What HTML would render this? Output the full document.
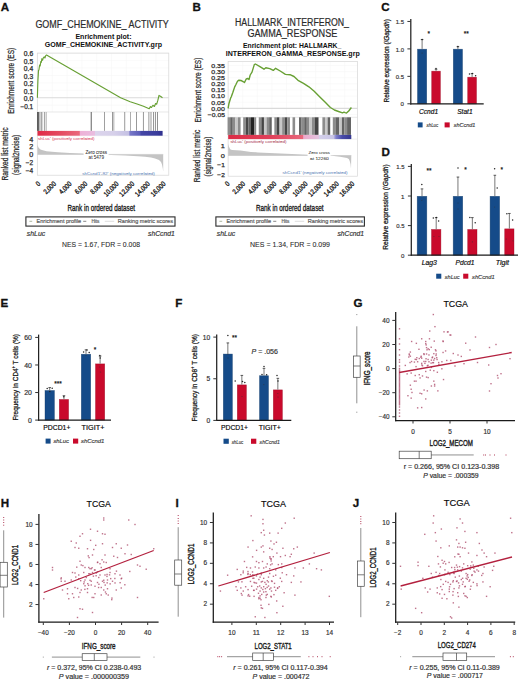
<!DOCTYPE html>
<html><head><meta charset="utf-8"><title>Figure</title>
<style>
html,body{margin:0;padding:0;background:#fff;width:520px;height:680px;overflow:hidden;}
svg{display:block;}
text{font-family:"Liberation Sans", sans-serif;}
</style></head><body>
<svg width="520" height="680" viewBox="0 0 520 680">
<text x="0.70" y="10.90" font-size="11.6" font-weight="bold" fill="#111" stroke="#111" stroke-width="0.3">A</text>
<text x="192.60" y="10.70" font-size="11.6" font-weight="bold" fill="#111" stroke="#111" stroke-width="0.3">B</text>
<text x="381.20" y="10.70" font-size="11.6" font-weight="bold" fill="#111" stroke="#111" stroke-width="0.3">C</text>
<text x="381.60" y="155.60" font-size="11.6" font-weight="bold" fill="#111" stroke="#111" stroke-width="0.3">D</text>
<text x="0.40" y="307.30" font-size="11.6" font-weight="bold" fill="#111" stroke="#111" stroke-width="0.3">E</text>
<text x="175.20" y="307.30" font-size="11.6" font-weight="bold" fill="#111" stroke="#111" stroke-width="0.3">F</text>
<text x="353.40" y="307.00" font-size="11.6" font-weight="bold" fill="#111" stroke="#111" stroke-width="0.3">G</text>
<text x="0.80" y="506.60" font-size="11.6" font-weight="bold" fill="#111" stroke="#111" stroke-width="0.3">H</text>
<text x="175.40" y="507.00" font-size="11.6" font-weight="bold" fill="#111" stroke="#111" stroke-width="0.3">I</text>
<text x="352.80" y="507.00" font-size="11.6" font-weight="bold" fill="#111" stroke="#111" stroke-width="0.3">J</text>
<line x1="37.30" y1="53.10" x2="168.80" y2="53.10" stroke="#f6f6f6" stroke-width="0.6"/>
<line x1="37.30" y1="60.55" x2="168.80" y2="60.55" stroke="#f6f6f6" stroke-width="0.6"/>
<line x1="37.30" y1="68.00" x2="168.80" y2="68.00" stroke="#f6f6f6" stroke-width="0.6"/>
<line x1="37.30" y1="75.45" x2="168.80" y2="75.45" stroke="#f6f6f6" stroke-width="0.6"/>
<line x1="37.30" y1="82.90" x2="168.80" y2="82.90" stroke="#f6f6f6" stroke-width="0.6"/>
<line x1="37.30" y1="90.35" x2="168.80" y2="90.35" stroke="#f6f6f6" stroke-width="0.6"/>
<line x1="37.30" y1="105.25" x2="168.80" y2="105.25" stroke="#f6f6f6" stroke-width="0.6"/>
<line x1="52.30" y1="53.10" x2="52.30" y2="112.00" stroke="#f6f6f6" stroke-width="0.6"/>
<line x1="67.11" y1="53.10" x2="67.11" y2="112.00" stroke="#f6f6f6" stroke-width="0.6"/>
<line x1="81.91" y1="53.10" x2="81.91" y2="112.00" stroke="#f6f6f6" stroke-width="0.6"/>
<line x1="96.72" y1="53.10" x2="96.72" y2="112.00" stroke="#f6f6f6" stroke-width="0.6"/>
<line x1="111.52" y1="53.10" x2="111.52" y2="112.00" stroke="#f6f6f6" stroke-width="0.6"/>
<line x1="126.33" y1="53.10" x2="126.33" y2="112.00" stroke="#f6f6f6" stroke-width="0.6"/>
<line x1="141.13" y1="53.10" x2="141.13" y2="112.00" stroke="#f6f6f6" stroke-width="0.6"/>
<line x1="155.94" y1="53.10" x2="155.94" y2="112.00" stroke="#f6f6f6" stroke-width="0.6"/>
<line x1="37.30" y1="97.80" x2="168.80" y2="97.80" stroke="#dadada" stroke-width="1.1"/>
<rect x="37.30" y="53.10" width="131.50" height="122.10" fill="none" stroke="#d6d6d6" stroke-width="0.7"/>
<line x1="37.30" y1="112.00" x2="168.80" y2="112.00" stroke="#d8d8d8" stroke-width="0.6"/>
<line x1="37.30" y1="135.70" x2="168.80" y2="135.70" stroke="#e6e6e6" stroke-width="0.6"/>
<rect x="37.20" y="112.00" width="1.00" height="18.90" fill="rgb(60,60,60)"/>
<rect x="38.05" y="112.00" width="0.90" height="18.90" fill="rgb(90,90,90)"/>
<rect x="39.50" y="112.00" width="0.80" height="18.90" fill="rgb(120,120,120)"/>
<rect x="40.95" y="112.00" width="0.70" height="18.90" fill="rgb(120,120,120)"/>
<rect x="42.50" y="112.00" width="0.60" height="18.90" fill="rgb(175,175,175)"/>
<rect x="44.05" y="112.00" width="0.70" height="18.90" fill="rgb(130,130,130)"/>
<rect x="45.75" y="112.00" width="0.70" height="18.90" fill="rgb(135,135,135)"/>
<rect x="90.75" y="112.00" width="0.90" height="18.90" fill="rgb(80,80,80)"/>
<rect x="104.05" y="112.00" width="0.70" height="18.90" fill="rgb(120,120,120)"/>
<rect x="112.25" y="112.00" width="0.70" height="18.90" fill="rgb(110,110,110)"/>
<rect x="113.60" y="112.00" width="0.60" height="18.90" fill="rgb(120,120,120)"/>
<rect x="124.45" y="112.00" width="0.70" height="18.90" fill="rgb(110,110,110)"/>
<rect x="130.30" y="112.00" width="0.60" height="18.90" fill="rgb(120,120,120)"/>
<rect x="136.15" y="112.00" width="0.70" height="18.90" fill="rgb(110,110,110)"/>
<rect x="142.95" y="112.00" width="0.70" height="18.90" fill="rgb(110,110,110)"/>
<rect x="148.55" y="112.00" width="0.70" height="18.90" fill="rgb(110,110,110)"/>
<rect x="150.65" y="112.00" width="0.70" height="18.90" fill="rgb(110,110,110)"/>
<rect x="153.15" y="112.00" width="0.70" height="18.90" fill="rgb(110,110,110)"/>
<rect x="154.95" y="112.00" width="0.70" height="18.90" fill="rgb(100,100,100)"/>
<rect x="157.25" y="112.00" width="0.70" height="18.90" fill="rgb(100,100,100)"/>
<linearGradient id="gA" gradientUnits="userSpaceOnUse" x1="37.5" y1="0" x2="162.6" y2="0"><stop offset="0.0000" stop-color="#e02a46"/><stop offset="0.1799" stop-color="#e44a60"/><stop offset="0.3349" stop-color="#ea6a7c"/><stop offset="0.3389" stop-color="#eeb0d6"/><stop offset="0.4556" stop-color="#e9bde0"/><stop offset="0.4636" stop-color="#dcd4ec"/><stop offset="0.6115" stop-color="#d6d0ea"/><stop offset="0.7314" stop-color="#c4c0e4"/><stop offset="0.7378" stop-color="#7878c8"/><stop offset="0.8193" stop-color="#5a5cb8"/><stop offset="0.8273" stop-color="#4446a6"/><stop offset="0.9552" stop-color="#3a3c9c"/><stop offset="1.0000" stop-color="#2e2f8c"/></linearGradient>
<rect x="37.50" y="130.90" width="125.10" height="4.80" fill="url(#gA)"/>
<path d="M37.40 97.80 L37.60 90.00 L37.90 81.10 L38.50 70.80 L39.00 69.50 L39.60 65.00 L40.20 66.00 L40.80 61.50 L41.30 62.30 L41.90 58.70 L42.60 60.20 L43.40 57.60 L44.20 56.90 L44.90 58.00 L45.70 55.60 L46.50 55.00 L120.60 97.80 L130.20 101.70 L137.10 104.00 L143.50 106.30 L149.20 108.70 L150.40 106.60 L151.50 107.50 L152.90 105.30 L154.40 106.50 L155.60 103.50 L156.70 104.20 L157.90 100.20 L159.00 95.40 L160.80 96.50 L162.50 97.70" stroke="#68a034" stroke-width="1.15" fill="none" stroke-linejoin="round"/>
<path d="M37.50 154.60 L37.50 145.00 L38.50 147.60 L40.00 149.20 L41.90 150.10 L46.50 151.20 L52.00 151.80 L58.00 152.20 L70.00 153.00 L83.00 153.60 L93.00 154.40 L110.80 154.90 L125.00 155.50 L137.70 156.20 L145.00 156.80 L151.00 157.60 L155.00 158.40 L159.00 160.00 L161.00 162.00 L162.00 164.50 L162.80 168.50 L163.20 171.50 L163.20 154.40" stroke="none" stroke-width="0" fill="#c4c4c4"/>
<line x1="37.50" y1="154.40" x2="163.20" y2="154.40" stroke="#bdbdbd" stroke-width="0.5"/>
<rect x="83.60" y="149.00" width="25.00" height="12.50" fill="#fff"/>
<text x="33.20" y="56.40" font-size="6.4" text-anchor="end" fill="#2a2a2a" textLength="9.32" lengthAdjust="spacingAndGlyphs" stroke="#2a2a2a" stroke-width="0.25">0.6</text>
<text x="33.20" y="63.85" font-size="6.4" text-anchor="end" fill="#2a2a2a" textLength="9.32" lengthAdjust="spacingAndGlyphs" stroke="#2a2a2a" stroke-width="0.25">0.5</text>
<text x="33.20" y="71.30" font-size="6.4" text-anchor="end" fill="#2a2a2a" textLength="9.32" lengthAdjust="spacingAndGlyphs" stroke="#2a2a2a" stroke-width="0.25">0.4</text>
<text x="33.20" y="78.75" font-size="6.4" text-anchor="end" fill="#2a2a2a" textLength="9.32" lengthAdjust="spacingAndGlyphs" stroke="#2a2a2a" stroke-width="0.25">0.3</text>
<text x="33.20" y="86.20" font-size="6.4" text-anchor="end" fill="#2a2a2a" textLength="9.32" lengthAdjust="spacingAndGlyphs" stroke="#2a2a2a" stroke-width="0.25">0.2</text>
<text x="33.20" y="93.65" font-size="6.4" text-anchor="end" fill="#2a2a2a" textLength="9.32" lengthAdjust="spacingAndGlyphs" stroke="#2a2a2a" stroke-width="0.25">0.1</text>
<text x="33.20" y="101.10" font-size="6.4" text-anchor="end" fill="#2a2a2a" textLength="9.32" lengthAdjust="spacingAndGlyphs" stroke="#2a2a2a" stroke-width="0.25">0.0</text>
<text x="33.20" y="108.55" font-size="6.4" text-anchor="end" fill="#2a2a2a" textLength="12.72" lengthAdjust="spacingAndGlyphs" stroke="#2a2a2a" stroke-width="0.25">−0.1</text>
<text x="33.20" y="141.60" font-size="6.4" text-anchor="end" fill="#2a2a2a" textLength="4.00" lengthAdjust="spacingAndGlyphs" stroke="#2a2a2a" stroke-width="0.25">4</text>
<text x="33.20" y="149.30" font-size="6.4" text-anchor="end" fill="#2a2a2a" textLength="4.00" lengthAdjust="spacingAndGlyphs" stroke="#2a2a2a" stroke-width="0.25">2</text>
<text x="33.20" y="157.10" font-size="6.4" text-anchor="end" fill="#2a2a2a" textLength="4.00" lengthAdjust="spacingAndGlyphs" stroke="#2a2a2a" stroke-width="0.25">0</text>
<text x="33.20" y="165.20" font-size="6.4" text-anchor="end" fill="#2a2a2a" textLength="7.40" lengthAdjust="spacingAndGlyphs" stroke="#2a2a2a" stroke-width="0.25">−2</text>
<text x="33.20" y="173.20" font-size="6.4" text-anchor="end" fill="#2a2a2a" textLength="7.40" lengthAdjust="spacingAndGlyphs" stroke="#2a2a2a" stroke-width="0.25">−4</text>
<text x="14.00" y="80.80" font-size="8.8" text-anchor="middle" fill="#2a2a2a" textLength="66.00" lengthAdjust="spacingAndGlyphs" transform="rotate(-90 14.00 80.80)" stroke="#2a2a2a" stroke-width="0.25">Enrichment score (ES)</text>
<text x="8.10" y="154.00" font-size="8.8" text-anchor="middle" fill="#2a2a2a" textLength="53.20" lengthAdjust="spacingAndGlyphs" transform="rotate(-90 8.10 154.00)" stroke="#2a2a2a" stroke-width="0.25">Ranked list metric</text>
<text x="19.40" y="154.90" font-size="8.8" text-anchor="middle" fill="#2a2a2a" textLength="40.00" lengthAdjust="spacingAndGlyphs" transform="rotate(-90 19.40 154.90)" stroke="#2a2a2a" stroke-width="0.25">(signal2noise)</text>
<text x="40.80" y="184.30" font-size="7.0" text-anchor="end" textLength="3.24" lengthAdjust="spacingAndGlyphs" transform="rotate(-45 40.80 184.30)" stroke="#222" stroke-width="0.3">0</text>
<text x="56.45" y="184.30" font-size="7.0" text-anchor="end" textLength="14.58" lengthAdjust="spacingAndGlyphs" transform="rotate(-45 56.45 184.30)" stroke="#222" stroke-width="0.3">2,000</text>
<text x="72.10" y="184.30" font-size="7.0" text-anchor="end" textLength="14.58" lengthAdjust="spacingAndGlyphs" transform="rotate(-45 72.10 184.30)" stroke="#222" stroke-width="0.3">4,000</text>
<text x="87.75" y="184.30" font-size="7.0" text-anchor="end" textLength="14.58" lengthAdjust="spacingAndGlyphs" transform="rotate(-45 87.75 184.30)" stroke="#222" stroke-width="0.3">6,000</text>
<text x="103.40" y="184.30" font-size="7.0" text-anchor="end" textLength="14.58" lengthAdjust="spacingAndGlyphs" transform="rotate(-45 103.40 184.30)" stroke="#222" stroke-width="0.3">8,000</text>
<text x="119.05" y="184.30" font-size="7.0" text-anchor="end" textLength="17.82" lengthAdjust="spacingAndGlyphs" transform="rotate(-45 119.05 184.30)" stroke="#222" stroke-width="0.3">10,000</text>
<text x="134.70" y="184.30" font-size="7.0" text-anchor="end" textLength="17.82" lengthAdjust="spacingAndGlyphs" transform="rotate(-45 134.70 184.30)" stroke="#222" stroke-width="0.3">12,000</text>
<text x="150.35" y="184.30" font-size="7.0" text-anchor="end" textLength="17.82" lengthAdjust="spacingAndGlyphs" transform="rotate(-45 150.35 184.30)" stroke="#222" stroke-width="0.3">14,000</text>
<text x="166.00" y="184.30" font-size="7.0" text-anchor="end" textLength="17.82" lengthAdjust="spacingAndGlyphs" transform="rotate(-45 166.00 184.30)" stroke="#222" stroke-width="0.3">16,000</text>
<text x="38.00" y="140.30" font-size="4.3" fill="#e0506a" textLength="56.60" lengthAdjust="spacingAndGlyphs" stroke="#e0506a" stroke-width="0.05">shLuc′ (positively correlated)</text>
<text x="96.20" y="154.00" font-size="4.6" text-anchor="middle" fill="#333" textLength="21.60" lengthAdjust="spacingAndGlyphs" stroke="#333" stroke-width="0.05">Zero cross</text>
<text x="96.30" y="159.30" font-size="4.6" text-anchor="middle" fill="#333" textLength="15.40" lengthAdjust="spacingAndGlyphs" stroke="#333" stroke-width="0.05">at 5479</text>
<text x="82.20" y="175.00" font-size="4.4" fill="#6a8cc0" textLength="72.60" lengthAdjust="spacingAndGlyphs" stroke="#6a8cc0" stroke-width="0.05">shCcnd1′-92′ (negatively correlated)</text>
<line x1="228.10" y1="65.49" x2="357.50" y2="65.49" stroke="#f6f6f6" stroke-width="0.6"/>
<line x1="228.10" y1="71.62" x2="357.50" y2="71.62" stroke="#f6f6f6" stroke-width="0.6"/>
<line x1="228.10" y1="77.75" x2="357.50" y2="77.75" stroke="#f6f6f6" stroke-width="0.6"/>
<line x1="228.10" y1="83.88" x2="357.50" y2="83.88" stroke="#f6f6f6" stroke-width="0.6"/>
<line x1="228.10" y1="90.01" x2="357.50" y2="90.01" stroke="#f6f6f6" stroke-width="0.6"/>
<line x1="228.10" y1="96.14" x2="357.50" y2="96.14" stroke="#f6f6f6" stroke-width="0.6"/>
<line x1="228.10" y1="102.27" x2="357.50" y2="102.27" stroke="#f6f6f6" stroke-width="0.6"/>
<line x1="228.10" y1="114.53" x2="357.50" y2="114.53" stroke="#f6f6f6" stroke-width="0.6"/>
<line x1="242.77" y1="61.60" x2="242.77" y2="117.30" stroke="#f6f6f6" stroke-width="0.6"/>
<line x1="257.34" y1="61.60" x2="257.34" y2="117.30" stroke="#f6f6f6" stroke-width="0.6"/>
<line x1="271.90" y1="61.60" x2="271.90" y2="117.30" stroke="#f6f6f6" stroke-width="0.6"/>
<line x1="286.47" y1="61.60" x2="286.47" y2="117.30" stroke="#f6f6f6" stroke-width="0.6"/>
<line x1="301.04" y1="61.60" x2="301.04" y2="117.30" stroke="#f6f6f6" stroke-width="0.6"/>
<line x1="315.61" y1="61.60" x2="315.61" y2="117.30" stroke="#f6f6f6" stroke-width="0.6"/>
<line x1="330.18" y1="61.60" x2="330.18" y2="117.30" stroke="#f6f6f6" stroke-width="0.6"/>
<line x1="344.74" y1="61.60" x2="344.74" y2="117.30" stroke="#f6f6f6" stroke-width="0.6"/>
<line x1="228.10" y1="108.40" x2="357.50" y2="108.40" stroke="#dadada" stroke-width="1.1"/>
<rect x="228.10" y="61.60" width="129.40" height="114.60" fill="none" stroke="#d6d6d6" stroke-width="0.7"/>
<line x1="228.10" y1="117.30" x2="357.50" y2="117.30" stroke="#d8d8d8" stroke-width="0.6"/>
<line x1="228.10" y1="139.10" x2="357.50" y2="139.10" stroke="#e6e6e6" stroke-width="0.6"/>
<rect x="227.60" y="117.30" width="2.60" height="17.60" fill="rgb(140,140,140)"/>
<rect x="230.19" y="117.30" width="2.60" height="17.60" fill="rgb(100,100,100)"/>
<rect x="232.79" y="117.30" width="2.60" height="17.60" fill="rgb(140,140,140)"/>
<rect x="235.39" y="117.30" width="2.60" height="17.60" fill="rgb(200,200,200)"/>
<rect x="237.99" y="117.30" width="2.60" height="17.60" fill="rgb(140,140,140)"/>
<rect x="243.18" y="117.30" width="2.60" height="17.60" fill="rgb(140,140,140)"/>
<rect x="245.78" y="117.30" width="2.60" height="17.60" fill="rgb(70,70,70)"/>
<rect x="248.38" y="117.30" width="2.60" height="17.60" fill="rgb(100,100,100)"/>
<rect x="250.97" y="117.30" width="3.12" height="17.60" fill="rgb(35,35,35)"/>
<rect x="254.09" y="117.30" width="2.08" height="17.60" fill="rgb(140,140,140)"/>
<rect x="258.76" y="117.30" width="2.60" height="17.60" fill="rgb(140,140,140)"/>
<rect x="261.36" y="117.30" width="2.60" height="17.60" fill="rgb(70,70,70)"/>
<rect x="263.96" y="117.30" width="2.60" height="17.60" fill="rgb(200,200,200)"/>
<rect x="266.56" y="117.30" width="2.60" height="17.60" fill="rgb(140,140,140)"/>
<rect x="269.15" y="117.30" width="2.60" height="17.60" fill="rgb(100,100,100)"/>
<rect x="274.35" y="117.30" width="2.60" height="17.60" fill="rgb(140,140,140)"/>
<rect x="276.95" y="117.30" width="2.60" height="17.60" fill="rgb(70,70,70)"/>
<rect x="279.54" y="117.30" width="2.60" height="17.60" fill="rgb(200,200,200)"/>
<rect x="282.14" y="117.30" width="2.60" height="17.60" fill="rgb(140,140,140)"/>
<rect x="284.74" y="117.30" width="2.60" height="17.60" fill="rgb(70,70,70)"/>
<rect x="287.34" y="117.30" width="2.60" height="17.60" fill="rgb(140,140,140)"/>
<rect x="292.53" y="117.30" width="2.60" height="17.60" fill="rgb(140,140,140)"/>
<rect x="299.02" y="117.30" width="2.60" height="17.60" fill="rgb(100,100,100)"/>
<rect x="301.62" y="117.30" width="2.60" height="17.60" fill="rgb(140,140,140)"/>
<rect x="304.22" y="117.30" width="2.60" height="17.60" fill="rgb(100,100,100)"/>
<rect x="306.82" y="117.30" width="2.60" height="17.60" fill="rgb(140,140,140)"/>
<rect x="309.41" y="117.30" width="2.60" height="17.60" fill="rgb(200,200,200)"/>
<rect x="312.01" y="117.30" width="2.60" height="17.60" fill="rgb(140,140,140)"/>
<rect x="314.61" y="117.30" width="3.90" height="17.60" fill="rgb(70,70,70)"/>
<rect x="322.40" y="117.30" width="2.60" height="17.60" fill="rgb(140,140,140)"/>
<rect x="325.00" y="117.30" width="2.60" height="17.60" fill="rgb(200,200,200)"/>
<rect x="327.60" y="117.30" width="2.60" height="17.60" fill="rgb(100,100,100)"/>
<rect x="332.79" y="117.30" width="2.60" height="17.60" fill="rgb(140,140,140)"/>
<rect x="335.39" y="117.30" width="3.90" height="17.60" fill="rgb(100,100,100)"/>
<rect x="339.28" y="117.30" width="2.60" height="17.60" fill="rgb(200,200,200)"/>
<rect x="341.88" y="117.30" width="2.60" height="17.60" fill="rgb(100,100,100)"/>
<rect x="344.48" y="117.30" width="2.60" height="17.60" fill="rgb(140,140,140)"/>
<rect x="347.08" y="117.30" width="3.90" height="17.60" fill="rgb(100,100,100)"/>
<linearGradient id="gB" gradientUnits="userSpaceOnUse" x1="228.2" y1="0" x2="351.3" y2="0"><stop offset="0.0000" stop-color="#dc2c46"/><stop offset="0.3396" stop-color="#e0405a"/><stop offset="0.6076" stop-color="#e8687c"/><stop offset="0.6125" stop-color="#ecaacb"/><stop offset="0.7360" stop-color="#e4c4e0"/><stop offset="0.7417" stop-color="#d4d0ea"/><stop offset="0.8554" stop-color="#c8c4e6"/><stop offset="0.8757" stop-color="#8080cc"/><stop offset="0.9245" stop-color="#4a4caa"/><stop offset="1.0000" stop-color="#34368f"/></linearGradient>
<rect x="228.20" y="134.90" width="123.10" height="4.20" fill="url(#gB)"/>
<path d="M228.10 108.40 L228.90 103.80 L230.60 98.10 L231.20 97.00 L232.90 92.30 L234.60 87.10 L235.80 84.80 L237.50 81.30 L238.70 80.20 L241.00 80.50 L242.70 81.30 L244.50 82.50 L246.20 79.00 L247.90 78.50 L249.00 79.60 L250.20 75.00 L252.00 72.10 L254.30 64.60 L255.40 64.00 L259.50 66.30 L264.00 69.20 L265.80 67.80 L269.80 68.60 L273.30 70.40 L275.60 68.30 L280.20 71.00 L285.40 74.40 L290.00 74.70 L294.00 76.50 L298.00 80.30 L303.50 83.30 L308.90 86.80 L314.20 91.30 L319.60 96.70 L325.00 102.10 L330.40 107.50 L334.40 110.00 L338.50 111.50 L342.50 112.90 L344.00 112.20 L345.20 112.60 L346.50 113.00 L348.70 111.00 L351.40 107.50" stroke="#68a034" stroke-width="1.4" fill="none" stroke-linejoin="round"/>
<path d="M228.20 155.50 L228.20 143.80 L229.00 146.80 L230.20 149.30 L232.00 150.00 L240.50 150.60 L251.00 151.90 L258.00 152.40 L275.00 153.20 L303.00 154.50 L320.00 155.20 L331.50 155.50 L334.00 156.10 L340.00 156.70 L347.00 157.90 L348.80 159.00 L349.70 161.00 L350.50 164.00 L351.00 168.80 L351.30 155.50" stroke="none" stroke-width="0" fill="#c4c4c4"/>
<line x1="228.20" y1="155.50" x2="351.30" y2="155.50" stroke="#bdbdbd" stroke-width="0.5"/>
<rect x="307.60" y="149.50" width="23.00" height="11.50" fill="#fff"/>
<text x="224.90" y="67.79" font-size="6.2" text-anchor="end" fill="#2a2a2a" textLength="13.59" lengthAdjust="spacingAndGlyphs" stroke="#2a2a2a" stroke-width="0.25">0.35</text>
<text x="224.90" y="73.92" font-size="6.2" text-anchor="end" fill="#2a2a2a" textLength="13.59" lengthAdjust="spacingAndGlyphs" stroke="#2a2a2a" stroke-width="0.25">0.30</text>
<text x="224.90" y="80.05" font-size="6.2" text-anchor="end" fill="#2a2a2a" textLength="13.59" lengthAdjust="spacingAndGlyphs" stroke="#2a2a2a" stroke-width="0.25">0.25</text>
<text x="224.90" y="86.18" font-size="6.2" text-anchor="end" fill="#2a2a2a" textLength="13.59" lengthAdjust="spacingAndGlyphs" stroke="#2a2a2a" stroke-width="0.25">0.20</text>
<text x="224.90" y="92.31" font-size="6.2" text-anchor="end" fill="#2a2a2a" textLength="13.59" lengthAdjust="spacingAndGlyphs" stroke="#2a2a2a" stroke-width="0.25">0.15</text>
<text x="224.90" y="98.44" font-size="6.2" text-anchor="end" fill="#2a2a2a" textLength="13.59" lengthAdjust="spacingAndGlyphs" stroke="#2a2a2a" stroke-width="0.25">0.10</text>
<text x="224.90" y="104.57" font-size="6.2" text-anchor="end" fill="#2a2a2a" textLength="13.59" lengthAdjust="spacingAndGlyphs" stroke="#2a2a2a" stroke-width="0.25">0.05</text>
<text x="224.90" y="110.70" font-size="6.2" text-anchor="end" fill="#2a2a2a" textLength="13.59" lengthAdjust="spacingAndGlyphs" stroke="#2a2a2a" stroke-width="0.25">0.00</text>
<text x="224.90" y="116.83" font-size="6.2" text-anchor="end" fill="#2a2a2a" textLength="17.05" lengthAdjust="spacingAndGlyphs" stroke="#2a2a2a" stroke-width="0.25">−0.05</text>
<text x="224.90" y="148.20" font-size="6.2" text-anchor="end" fill="#2a2a2a" textLength="4.08" lengthAdjust="spacingAndGlyphs" stroke="#2a2a2a" stroke-width="0.25">1</text>
<text x="224.90" y="157.60" font-size="6.2" text-anchor="end" fill="#2a2a2a" textLength="4.08" lengthAdjust="spacingAndGlyphs" stroke="#2a2a2a" stroke-width="0.25">0</text>
<text x="224.90" y="167.20" font-size="6.2" text-anchor="end" fill="#2a2a2a" textLength="7.55" lengthAdjust="spacingAndGlyphs" stroke="#2a2a2a" stroke-width="0.25">−1</text>
<text x="224.90" y="176.80" font-size="6.2" text-anchor="end" fill="#2a2a2a" textLength="7.55" lengthAdjust="spacingAndGlyphs" stroke="#2a2a2a" stroke-width="0.25">−2</text>
<text x="200.80" y="90.10" font-size="8.8" text-anchor="middle" fill="#2a2a2a" textLength="64.80" lengthAdjust="spacingAndGlyphs" transform="rotate(-90 200.80 90.10)" stroke="#2a2a2a" stroke-width="0.25">Enrichment score (ES)</text>
<text x="199.60" y="156.00" font-size="8.8" text-anchor="middle" fill="#2a2a2a" textLength="52.50" lengthAdjust="spacingAndGlyphs" transform="rotate(-90 199.60 156.00)" stroke="#2a2a2a" stroke-width="0.25">Ranked list metric</text>
<text x="210.80" y="156.50" font-size="8.8" text-anchor="middle" fill="#2a2a2a" textLength="39.80" lengthAdjust="spacingAndGlyphs" transform="rotate(-90 210.80 156.50)" stroke="#2a2a2a" stroke-width="0.25">(signal2noise)</text>
<text x="230.00" y="184.30" font-size="7.0" text-anchor="end" textLength="3.24" lengthAdjust="spacingAndGlyphs" transform="rotate(-45 230.00 184.30)" stroke="#222" stroke-width="0.3">0</text>
<text x="245.60" y="184.30" font-size="7.0" text-anchor="end" textLength="14.58" lengthAdjust="spacingAndGlyphs" transform="rotate(-45 245.60 184.30)" stroke="#222" stroke-width="0.3">2,000</text>
<text x="261.20" y="184.30" font-size="7.0" text-anchor="end" textLength="14.58" lengthAdjust="spacingAndGlyphs" transform="rotate(-45 261.20 184.30)" stroke="#222" stroke-width="0.3">4,000</text>
<text x="276.80" y="184.30" font-size="7.0" text-anchor="end" textLength="14.58" lengthAdjust="spacingAndGlyphs" transform="rotate(-45 276.80 184.30)" stroke="#222" stroke-width="0.3">6,000</text>
<text x="292.40" y="184.30" font-size="7.0" text-anchor="end" textLength="14.58" lengthAdjust="spacingAndGlyphs" transform="rotate(-45 292.40 184.30)" stroke="#222" stroke-width="0.3">8,000</text>
<text x="308.00" y="184.30" font-size="7.0" text-anchor="end" textLength="17.82" lengthAdjust="spacingAndGlyphs" transform="rotate(-45 308.00 184.30)" stroke="#222" stroke-width="0.3">10,000</text>
<text x="323.60" y="184.30" font-size="7.0" text-anchor="end" textLength="17.82" lengthAdjust="spacingAndGlyphs" transform="rotate(-45 323.60 184.30)" stroke="#222" stroke-width="0.3">12,000</text>
<text x="339.20" y="184.30" font-size="7.0" text-anchor="end" textLength="17.82" lengthAdjust="spacingAndGlyphs" transform="rotate(-45 339.20 184.30)" stroke="#222" stroke-width="0.3">14,000</text>
<text x="354.80" y="184.30" font-size="7.0" text-anchor="end" textLength="17.82" lengthAdjust="spacingAndGlyphs" transform="rotate(-45 354.80 184.30)" stroke="#222" stroke-width="0.3">16,000</text>
<text x="230.40" y="143.00" font-size="4.3" fill="#b04860" textLength="56.00" lengthAdjust="spacingAndGlyphs" stroke="#b04860" stroke-width="0.05">shLuc′ (positively correlated)</text>
<text x="319.10" y="154.00" font-size="4.4" text-anchor="middle" fill="#333" textLength="21.10" lengthAdjust="spacingAndGlyphs" stroke="#333" stroke-width="0.05">Zero cross</text>
<text x="319.40" y="159.50" font-size="4.4" text-anchor="middle" fill="#333" textLength="18.70" lengthAdjust="spacingAndGlyphs" stroke="#333" stroke-width="0.05">at 12260</text>
<text x="282.50" y="174.00" font-size="4.4" fill="#6a8cc0" textLength="65.00" lengthAdjust="spacingAndGlyphs" stroke="#6a8cc0" stroke-width="0.05">shCcnd1′ (negatively correlated)</text>
<text x="35.40" y="28.30" font-size="10.2" fill="#2a2a2a" textLength="133.40" lengthAdjust="spacingAndGlyphs" stroke="#2a2a2a" stroke-width="0.18">GOMF_CHEMOKINE_ ACTIVITY</text>
<text x="75.40" y="39.40" font-size="7.2" font-weight="bold" fill="#111" textLength="56.10" lengthAdjust="spacingAndGlyphs">Enrichment plot:</text>
<text x="44.80" y="47.00" font-size="7.2" font-weight="bold" fill="#111" textLength="117.20" lengthAdjust="spacingAndGlyphs">GOMF_CHEMOKINE_ACTIVITY.grp</text>
<text x="235.00" y="25.70" font-size="10.0" fill="#2a2a2a" textLength="114.00" lengthAdjust="spacingAndGlyphs" stroke="#2a2a2a" stroke-width="0.18">HALLMARK_INTERFERON_</text>
<text x="247.50" y="36.60" font-size="10.0" fill="#2a2a2a" textLength="89.80" lengthAdjust="spacingAndGlyphs" stroke="#2a2a2a" stroke-width="0.18">GAMMA_RESPONSE</text>
<text x="243.00" y="48.20" font-size="7.0" font-weight="bold" fill="#111" textLength="98.30" lengthAdjust="spacingAndGlyphs">Enrichment plot: HALLMARK_</text>
<text x="225.80" y="56.30" font-size="7.0" font-weight="bold" fill="#111" textLength="133.90" lengthAdjust="spacingAndGlyphs">INTERFERON_GAMMA_RESPONSE.grp</text>
<text x="67.50" y="211.00" font-size="9.8" textLength="67.50" lengthAdjust="spacingAndGlyphs" stroke="#222" stroke-width="0.32">Rank in ordered dataset</text>
<rect x="25.90" y="216.9" width="149.10" height="9.2" fill="none" stroke="#2a2a2a" stroke-width="1.1"/>
<line x1="29.40" y1="221.30" x2="32.20" y2="221.30" stroke="#8a9a78" stroke-width="0.7"/>
<text x="36.60" y="223.20" font-size="5.7" fill="#555" textLength="44.40" lengthAdjust="spacingAndGlyphs" stroke="#555" stroke-width="0.18">Enrichment profile</text>
<line x1="83.20" y1="221.30" x2="86.30" y2="221.30" stroke="#555" stroke-width="0.7"/>
<text x="91.40" y="223.20" font-size="5.7" fill="#555" textLength="8.00" lengthAdjust="spacingAndGlyphs" stroke="#555" stroke-width="0.18">Hits</text>
<line x1="104.80" y1="221.30" x2="114.20" y2="221.30" stroke="#d4d4d4" stroke-width="0.8"/>
<text x="117.80" y="223.20" font-size="5.7" fill="#555" textLength="55.20" lengthAdjust="spacingAndGlyphs" stroke="#555" stroke-width="0.18">Ranking metric scores</text>
<text x="26.80" y="236.40" font-size="7.4" font-style="italic" fill="#333" textLength="18.40" lengthAdjust="spacingAndGlyphs" stroke="#333" stroke-width="0.18">sh<tspan font-style="italic">Luc</tspan></text>
<text x="174.70" y="236.40" font-size="7.4" text-anchor="end" font-style="italic" fill="#333" textLength="26.60" lengthAdjust="spacingAndGlyphs" stroke="#333" stroke-width="0.18">sh<tspan font-style="italic">Ccnd1</tspan></text>
<text x="62.00" y="246.60" font-size="7.0" fill="#2a2a2a" textLength="78.00" lengthAdjust="spacingAndGlyphs" stroke="#2a2a2a" stroke-width="0.08">NES = 1.67, FDR = 0.008</text>
<text x="256.00" y="211.00" font-size="9.8" textLength="67.60" lengthAdjust="spacingAndGlyphs" stroke="#222" stroke-width="0.32">Rank in ordered dataset</text>
<rect x="215.90" y="216.9" width="148.50" height="9.2" fill="none" stroke="#2a2a2a" stroke-width="1.1"/>
<line x1="219.40" y1="221.30" x2="222.20" y2="221.30" stroke="#8a9a78" stroke-width="0.7"/>
<text x="226.60" y="223.20" font-size="5.7" fill="#555" textLength="44.40" lengthAdjust="spacingAndGlyphs" stroke="#555" stroke-width="0.18">Enrichment profile</text>
<line x1="273.20" y1="221.30" x2="276.30" y2="221.30" stroke="#555" stroke-width="0.7"/>
<text x="281.40" y="223.20" font-size="5.7" fill="#555" textLength="8.00" lengthAdjust="spacingAndGlyphs" stroke="#555" stroke-width="0.18">Hits</text>
<line x1="294.80" y1="221.30" x2="304.20" y2="221.30" stroke="#d4d4d4" stroke-width="0.8"/>
<text x="307.80" y="223.20" font-size="5.7" fill="#555" textLength="55.20" lengthAdjust="spacingAndGlyphs" stroke="#555" stroke-width="0.18">Ranking metric scores</text>
<text x="216.80" y="236.40" font-size="7.4" font-style="italic" fill="#333" textLength="18.40" lengthAdjust="spacingAndGlyphs" stroke="#333" stroke-width="0.18">sh<tspan font-style="italic">Luc</tspan></text>
<text x="364.10" y="236.40" font-size="7.4" text-anchor="end" font-style="italic" fill="#333" textLength="26.60" lengthAdjust="spacingAndGlyphs" stroke="#333" stroke-width="0.18">sh<tspan font-style="italic">Ccnd1</tspan></text>
<text x="250.00" y="246.60" font-size="7.0" fill="#2a2a2a" textLength="80.00" lengthAdjust="spacingAndGlyphs" stroke="#2a2a2a" stroke-width="0.08">NES = 1.34, FDR = 0.099</text>
<rect x="417.50" y="49.20" width="9.20" height="54.60" fill="#154b89" stroke="#0d3766" stroke-width="0.6" stroke-opacity="0.6"/>
<line x1="422.10" y1="39.57" x2="422.10" y2="48.90" stroke="#555" stroke-width="0.8"/>
<line x1="420.80" y1="39.57" x2="423.40" y2="39.57" stroke="#333" stroke-width="0.8"/>
<rect x="431.70" y="71.16" width="8.70" height="32.64" fill="#c90a2c" stroke="#98001c" stroke-width="0.6" stroke-opacity="0.6"/>
<line x1="436.05" y1="69.21" x2="436.05" y2="70.86" stroke="#555" stroke-width="0.8"/>
<line x1="434.75" y1="69.21" x2="437.35" y2="69.21" stroke="#333" stroke-width="0.8"/>
<rect x="453.30" y="49.20" width="9.20" height="54.60" fill="#154b89" stroke="#0d3766" stroke-width="0.6" stroke-opacity="0.6"/>
<line x1="457.90" y1="46.70" x2="457.90" y2="48.90" stroke="#555" stroke-width="0.8"/>
<line x1="456.60" y1="46.70" x2="459.20" y2="46.70" stroke="#333" stroke-width="0.8"/>
<rect x="467.70" y="77.20" width="8.80" height="26.60" fill="#c90a2c" stroke="#98001c" stroke-width="0.6" stroke-opacity="0.6"/>
<line x1="472.10" y1="73.60" x2="472.10" y2="76.90" stroke="#555" stroke-width="0.8"/>
<line x1="470.80" y1="73.60" x2="473.40" y2="73.60" stroke="#333" stroke-width="0.8"/>
<circle cx="422.10" cy="39.60" r="0.75" fill="#222"/>
<circle cx="436.00" cy="68.40" r="0.75" fill="#222"/>
<circle cx="457.90" cy="46.60" r="0.75" fill="#222"/>
<circle cx="469.50" cy="74.00" r="0.75" fill="#222"/>
<circle cx="472.30" cy="73.40" r="0.75" fill="#222"/>
<circle cx="475.60" cy="75.80" r="0.75" fill="#222"/>
<circle cx="422.10" cy="53.10" r="0.6" fill="#333" fill-opacity="0.6"/>
<line x1="410.80" y1="19.00" x2="410.80" y2="104.40" stroke="#222" stroke-width="1.25"/>
<line x1="410.20" y1="103.80" x2="483.70" y2="103.80" stroke="#1a1a1a" stroke-width="1.25"/>
<line x1="407.40" y1="21.45" x2="410.80" y2="21.45" stroke="#333" stroke-width="1.0"/>
<text x="404.00" y="24.05" font-size="6.0" text-anchor="end" fill="#333" textLength="8.23" lengthAdjust="spacingAndGlyphs" stroke="#333" stroke-width="0.18">1.5</text>
<line x1="407.40" y1="48.90" x2="410.80" y2="48.90" stroke="#333" stroke-width="1.0"/>
<text x="404.00" y="51.50" font-size="6.0" text-anchor="end" fill="#333" textLength="8.23" lengthAdjust="spacingAndGlyphs" stroke="#333" stroke-width="0.18">1.0</text>
<line x1="407.40" y1="76.35" x2="410.80" y2="76.35" stroke="#333" stroke-width="1.0"/>
<text x="404.00" y="78.95" font-size="6.0" text-anchor="end" fill="#333" textLength="8.23" lengthAdjust="spacingAndGlyphs" stroke="#333" stroke-width="0.18">0.5</text>
<line x1="407.40" y1="103.80" x2="410.80" y2="103.80" stroke="#333" stroke-width="1.0"/>
<text x="404.00" y="106.40" font-size="6.0" text-anchor="end" fill="#333" textLength="3.40" lengthAdjust="spacingAndGlyphs" stroke="#333" stroke-width="0.18">0</text>
<text x="428.80" y="35.80" font-size="6.5" text-anchor="middle" stroke="#222" stroke-width="0.18">*</text>
<text x="466.30" y="35.80" font-size="6.5" text-anchor="middle" stroke="#222" stroke-width="0.18">**</text>
<text x="428.60" y="113.90" font-size="6.8" text-anchor="middle" font-style="italic" textLength="19.00" lengthAdjust="spacingAndGlyphs" stroke="#222" stroke-width="0.18">Ccnd1</text>
<text x="464.90" y="113.90" font-size="6.8" text-anchor="middle" font-style="italic" textLength="15.30" lengthAdjust="spacingAndGlyphs" stroke="#222" stroke-width="0.18">Stat1</text>
<text x="426.50" y="127.20" font-size="5.8" font-style="italic" fill="#444" textLength="11.80" lengthAdjust="spacingAndGlyphs" stroke="#444" stroke-width="0.18">sh<tspan>Luc</tspan></text>
<text x="453.70" y="127.20" font-size="5.8" font-style="italic" fill="#444" textLength="21.60" lengthAdjust="spacingAndGlyphs" stroke="#444" stroke-width="0.18">sh<tspan>Ccnd1</tspan></text>
<rect x="417.80" y="122.40" width="4.80" height="5.00" fill="#154b89"/>
<rect x="444.60" y="122.40" width="5.10" height="5.00" fill="#c90a2c"/>
<text x="389.40" y="60.80" font-size="7.4" text-anchor="middle" fill="#1a1a1a" textLength="83.20" lengthAdjust="spacingAndGlyphs" transform="rotate(-90 389.40 60.80)" stroke="#1a1a1a" stroke-width="0.28">Relative expression (/<tspan font-style="italic">Gapdh</tspan>)</text>
<rect x="417.20" y="196.30" width="9.60" height="58.90" fill="#154b89" stroke="#0d3766" stroke-width="0.6" stroke-opacity="0.6"/>
<line x1="422.00" y1="188.90" x2="422.00" y2="196.00" stroke="#555" stroke-width="0.8"/>
<line x1="420.70" y1="188.90" x2="423.30" y2="188.90" stroke="#333" stroke-width="0.8"/>
<rect x="431.50" y="229.45" width="9.40" height="25.75" fill="#c90a2c" stroke="#98001c" stroke-width="0.6" stroke-opacity="0.6"/>
<line x1="436.20" y1="217.61" x2="436.20" y2="229.15" stroke="#555" stroke-width="0.8"/>
<line x1="434.90" y1="217.61" x2="437.50" y2="217.61" stroke="#333" stroke-width="0.8"/>
<rect x="453.20" y="196.30" width="9.50" height="58.90" fill="#154b89" stroke="#0d3766" stroke-width="0.6" stroke-opacity="0.6"/>
<line x1="457.95" y1="177.06" x2="457.95" y2="196.00" stroke="#555" stroke-width="0.8"/>
<line x1="456.65" y1="177.06" x2="459.25" y2="177.06" stroke="#333" stroke-width="0.8"/>
<rect x="467.70" y="229.45" width="9.30" height="25.75" fill="#c90a2c" stroke="#98001c" stroke-width="0.6" stroke-opacity="0.6"/>
<line x1="472.35" y1="217.61" x2="472.35" y2="229.15" stroke="#555" stroke-width="0.8"/>
<line x1="471.05" y1="217.61" x2="473.65" y2="217.61" stroke="#333" stroke-width="0.8"/>
<rect x="490.10" y="196.30" width="9.50" height="58.90" fill="#154b89" stroke="#0d3766" stroke-width="0.6" stroke-opacity="0.6"/>
<line x1="494.85" y1="175.28" x2="494.85" y2="196.00" stroke="#555" stroke-width="0.8"/>
<line x1="493.55" y1="175.28" x2="496.15" y2="175.28" stroke="#333" stroke-width="0.8"/>
<rect x="504.70" y="228.86" width="9.30" height="26.34" fill="#c90a2c" stroke="#98001c" stroke-width="0.6" stroke-opacity="0.6"/>
<line x1="509.35" y1="213.46" x2="509.35" y2="228.56" stroke="#555" stroke-width="0.8"/>
<line x1="508.05" y1="213.46" x2="510.65" y2="213.46" stroke="#333" stroke-width="0.8"/>
<circle cx="421.80" cy="184.60" r="0.75" fill="#222"/>
<circle cx="458.00" cy="168.00" r="0.75" fill="#222"/>
<circle cx="494.60" cy="168.80" r="0.75" fill="#222"/>
<circle cx="497.20" cy="188.00" r="0.75" fill="#222"/>
<circle cx="433.30" cy="218.10" r="0.75" fill="#222"/>
<circle cx="436.40" cy="217.50" r="0.75" fill="#222"/>
<circle cx="438.60" cy="221.10" r="0.75" fill="#222"/>
<circle cx="469.90" cy="217.50" r="0.75" fill="#222"/>
<circle cx="475.20" cy="222.80" r="0.75" fill="#222"/>
<circle cx="506.90" cy="213.70" r="0.75" fill="#222"/>
<circle cx="512.60" cy="220.00" r="0.75" fill="#222"/>
<circle cx="421.80" cy="200.50" r="0.6" fill="#333" fill-opacity="0.6"/>
<circle cx="458.00" cy="203.00" r="0.6" fill="#333" fill-opacity="0.6"/>
<circle cx="458.00" cy="209.00" r="0.6" fill="#333" fill-opacity="0.6"/>
<circle cx="494.60" cy="207.00" r="0.6" fill="#333" fill-opacity="0.6"/>
<circle cx="433.90" cy="236.50" r="0.6" fill="#333" fill-opacity="0.6"/>
<circle cx="439.00" cy="236.50" r="0.6" fill="#333" fill-opacity="0.6"/>
<circle cx="472.40" cy="241.80" r="0.6" fill="#333" fill-opacity="0.6"/>
<circle cx="506.30" cy="239.00" r="0.6" fill="#333" fill-opacity="0.6"/>
<circle cx="513.00" cy="240.80" r="0.6" fill="#333" fill-opacity="0.6"/>
<line x1="411.30" y1="164.00" x2="411.30" y2="255.80" stroke="#222" stroke-width="1.25"/>
<line x1="410.70" y1="255.20" x2="518.00" y2="255.20" stroke="#1a1a1a" stroke-width="1.25"/>
<line x1="407.90" y1="166.40" x2="411.30" y2="166.40" stroke="#333" stroke-width="1.0"/>
<text x="404.50" y="169.00" font-size="6.0" text-anchor="end" fill="#333" textLength="8.23" lengthAdjust="spacingAndGlyphs" stroke="#333" stroke-width="0.18">1.5</text>
<line x1="407.90" y1="196.00" x2="411.30" y2="196.00" stroke="#333" stroke-width="1.0"/>
<text x="404.50" y="198.60" font-size="6.0" text-anchor="end" fill="#333" textLength="3.40" lengthAdjust="spacingAndGlyphs" stroke="#333" stroke-width="0.18">1</text>
<line x1="407.90" y1="225.60" x2="411.30" y2="225.60" stroke="#333" stroke-width="1.0"/>
<text x="404.50" y="228.20" font-size="6.0" text-anchor="end" fill="#333" textLength="8.23" lengthAdjust="spacingAndGlyphs" stroke="#333" stroke-width="0.18">0.5</text>
<line x1="407.90" y1="255.20" x2="411.30" y2="255.20" stroke="#333" stroke-width="1.0"/>
<text x="404.50" y="257.80" font-size="6.0" text-anchor="end" fill="#333" textLength="3.40" lengthAdjust="spacingAndGlyphs" stroke="#333" stroke-width="0.18">0</text>
<text x="429.00" y="172.60" font-size="6.5" text-anchor="middle" stroke="#222" stroke-width="0.18">**</text>
<text x="465.40" y="172.40" font-size="6.5" text-anchor="middle" stroke="#222" stroke-width="0.18">*</text>
<text x="501.80" y="172.40" font-size="6.5" text-anchor="middle" stroke="#222" stroke-width="0.18">*</text>
<text x="429.30" y="265.20" font-size="6.8" text-anchor="middle" font-style="italic" textLength="15.30" lengthAdjust="spacingAndGlyphs" stroke="#222" stroke-width="0.18">Lag3</text>
<text x="465.00" y="265.20" font-size="6.8" text-anchor="middle" font-style="italic" textLength="18.80" lengthAdjust="spacingAndGlyphs" stroke="#222" stroke-width="0.18">Pdcd1</text>
<text x="502.30" y="265.20" font-size="6.8" text-anchor="middle" font-style="italic" textLength="13.20" lengthAdjust="spacingAndGlyphs" stroke="#222" stroke-width="0.18">Tigit</text>
<rect x="436.20" y="273.70" width="5.10" height="5.00" fill="#154b89"/>
<rect x="463.20" y="273.70" width="5.10" height="5.00" fill="#c90a2c"/>
<text x="387.60" y="207.00" font-size="7.4" text-anchor="middle" fill="#1a1a1a" textLength="85.50" lengthAdjust="spacingAndGlyphs" transform="rotate(-90 387.60 207.00)" stroke="#1a1a1a" stroke-width="0.28">Relative expression (/<tspan font-style="italic">Gapdh</tspan>)</text>
<text x="444.80" y="278.60" font-size="5.8" font-style="italic" fill="#444" textLength="14.80" lengthAdjust="spacingAndGlyphs" stroke="#444" stroke-width="0.18">sh<tspan>Luc</tspan></text>
<text x="472.10" y="278.60" font-size="5.8" font-style="italic" fill="#444" textLength="22.50" lengthAdjust="spacingAndGlyphs" stroke="#444" stroke-width="0.18">sh<tspan>Ccnd1</tspan></text>
<rect x="45.00" y="390.50" width="9.40" height="29.60" fill="#154b89" stroke="#0d3766" stroke-width="0.6" stroke-opacity="0.6"/>
<line x1="49.70" y1="387.58" x2="49.70" y2="390.20" stroke="#555" stroke-width="0.8"/>
<line x1="48.40" y1="387.58" x2="51.00" y2="387.58" stroke="#333" stroke-width="0.8"/>
<rect x="59.30" y="399.45" width="9.30" height="20.65" fill="#c90a2c" stroke="#98001c" stroke-width="0.6" stroke-opacity="0.6"/>
<line x1="63.95" y1="395.71" x2="63.95" y2="399.15" stroke="#555" stroke-width="0.8"/>
<line x1="62.65" y1="395.71" x2="65.25" y2="395.71" stroke="#333" stroke-width="0.8"/>
<rect x="81.30" y="354.26" width="9.40" height="65.84" fill="#154b89" stroke="#0d3766" stroke-width="0.6" stroke-opacity="0.6"/>
<line x1="86.00" y1="349.82" x2="86.00" y2="353.96" stroke="#555" stroke-width="0.8"/>
<line x1="84.70" y1="349.82" x2="87.30" y2="349.82" stroke="#333" stroke-width="0.8"/>
<rect x="95.50" y="363.90" width="9.20" height="56.20" fill="#c90a2c" stroke="#98001c" stroke-width="0.6" stroke-opacity="0.6"/>
<line x1="100.10" y1="356.02" x2="100.10" y2="363.60" stroke="#555" stroke-width="0.8"/>
<line x1="98.80" y1="356.02" x2="101.40" y2="356.02" stroke="#333" stroke-width="0.8"/>
<circle cx="47.20" cy="388.60" r="0.75" fill="#222"/>
<circle cx="52.20" cy="388.20" r="0.75" fill="#222"/>
<circle cx="49.80" cy="391.50" r="0.75" fill="#222"/>
<circle cx="63.80" cy="396.80" r="0.75" fill="#222"/>
<circle cx="83.60" cy="352.00" r="0.75" fill="#222"/>
<circle cx="87.00" cy="350.00" r="0.75" fill="#222"/>
<circle cx="89.20" cy="352.50" r="0.75" fill="#222"/>
<circle cx="99.80" cy="355.60" r="0.75" fill="#222"/>
<circle cx="100.20" cy="358.00" r="0.75" fill="#222"/>
<circle cx="99.80" cy="367.00" r="0.6" fill="#333" fill-opacity="0.6"/>
<circle cx="100.50" cy="372.00" r="0.6" fill="#333" fill-opacity="0.6"/>
<circle cx="86.00" cy="355.50" r="0.6" fill="#333" fill-opacity="0.6"/>
<line x1="38.60" y1="334.60" x2="38.60" y2="420.70" stroke="#222" stroke-width="1.25"/>
<line x1="38.00" y1="420.10" x2="111.00" y2="420.10" stroke="#1a1a1a" stroke-width="1.25"/>
<line x1="35.20" y1="337.42" x2="38.60" y2="337.42" stroke="#333" stroke-width="1.0"/>
<text x="31.90" y="340.32" font-size="6.6" text-anchor="end" fill="#333" textLength="7.70" lengthAdjust="spacingAndGlyphs" stroke="#333" stroke-width="0.18">60</text>
<line x1="35.20" y1="364.98" x2="38.60" y2="364.98" stroke="#333" stroke-width="1.0"/>
<text x="31.90" y="367.88" font-size="6.6" text-anchor="end" fill="#333" textLength="7.70" lengthAdjust="spacingAndGlyphs" stroke="#333" stroke-width="0.18">40</text>
<line x1="35.20" y1="392.54" x2="38.60" y2="392.54" stroke="#333" stroke-width="1.0"/>
<text x="31.90" y="395.44" font-size="6.6" text-anchor="end" fill="#333" textLength="7.70" lengthAdjust="spacingAndGlyphs" stroke="#333" stroke-width="0.18">20</text>
<line x1="35.20" y1="420.10" x2="38.60" y2="420.10" stroke="#333" stroke-width="1.0"/>
<text x="31.90" y="423.00" font-size="6.6" text-anchor="end" fill="#333" textLength="3.85" lengthAdjust="spacingAndGlyphs" stroke="#333" stroke-width="0.18">0</text>
<text x="58.00" y="385.60" font-size="6.5" text-anchor="middle" stroke="#222" stroke-width="0.18">***</text>
<text x="95.00" y="352.40" font-size="6.5" text-anchor="middle" stroke="#222" stroke-width="0.18">*</text>
<text x="56.80" y="430.20" font-size="7.2" text-anchor="middle" textLength="27.20" lengthAdjust="spacingAndGlyphs" stroke="#222" stroke-width="0.18">PDCD1+</text>
<text x="93.00" y="430.20" font-size="7.2" text-anchor="middle" textLength="22.80" lengthAdjust="spacingAndGlyphs" stroke="#222" stroke-width="0.18">TIGIT+</text>
<text x="53.40" y="443.40" font-size="5.8" font-style="italic" fill="#444" textLength="15.60" lengthAdjust="spacingAndGlyphs" stroke="#444" stroke-width="0.18">sh<tspan>Luc</tspan></text>
<text x="81.00" y="443.40" font-size="5.8" font-style="italic" fill="#444" textLength="23.40" lengthAdjust="spacingAndGlyphs" stroke="#444" stroke-width="0.18">sh<tspan>Ccnd1</tspan></text>
<rect x="45.60" y="438.60" width="5.00" height="5.00" fill="#154b89"/>
<rect x="73.00" y="438.60" width="5.20" height="5.00" fill="#c90a2c"/>
<text x="17.60" y="377.30" font-size="8.0" text-anchor="middle" fill="#1a1a1a" textLength="86.60" lengthAdjust="spacingAndGlyphs" transform="rotate(-90 17.60 377.30)" stroke="#1a1a1a" stroke-width="0.28">Frequency in CD4<tspan font-size="4.5" dy="-3">+</tspan><tspan dy="3"> T cells (%)</tspan></text>
<rect x="223.30" y="354.06" width="9.10" height="66.34" fill="#154b89" stroke="#0d3766" stroke-width="0.6" stroke-opacity="0.6"/>
<line x1="227.85" y1="342.93" x2="227.85" y2="353.76" stroke="#555" stroke-width="0.8"/>
<line x1="226.55" y1="342.93" x2="229.15" y2="342.93" stroke="#333" stroke-width="0.8"/>
<rect x="237.30" y="384.88" width="9.10" height="35.52" fill="#c90a2c" stroke="#98001c" stroke-width="0.6" stroke-opacity="0.6"/>
<line x1="241.85" y1="375.42" x2="241.85" y2="384.58" stroke="#555" stroke-width="0.8"/>
<line x1="240.55" y1="375.42" x2="243.15" y2="375.42" stroke="#333" stroke-width="0.8"/>
<rect x="259.50" y="375.72" width="9.00" height="44.68" fill="#154b89" stroke="#0d3766" stroke-width="0.6" stroke-opacity="0.6"/>
<line x1="264.00" y1="368.34" x2="264.00" y2="375.42" stroke="#555" stroke-width="0.8"/>
<line x1="262.70" y1="368.34" x2="265.30" y2="368.34" stroke="#333" stroke-width="0.8"/>
<rect x="273.30" y="389.88" width="9.10" height="30.52" fill="#c90a2c" stroke="#98001c" stroke-width="0.6" stroke-opacity="0.6"/>
<line x1="277.85" y1="378.33" x2="277.85" y2="389.58" stroke="#555" stroke-width="0.8"/>
<line x1="276.55" y1="378.33" x2="279.15" y2="378.33" stroke="#333" stroke-width="0.8"/>
<circle cx="227.90" cy="335.40" r="0.75" fill="#222"/>
<circle cx="235.20" cy="381.00" r="0.75" fill="#222"/>
<circle cx="242.50" cy="381.50" r="0.75" fill="#222"/>
<circle cx="244.80" cy="382.60" r="0.75" fill="#222"/>
<circle cx="262.00" cy="374.40" r="0.75" fill="#222"/>
<circle cx="264.00" cy="366.40" r="0.75" fill="#222"/>
<circle cx="266.60" cy="374.80" r="0.75" fill="#222"/>
<circle cx="277.00" cy="375.50" r="0.75" fill="#222"/>
<circle cx="278.00" cy="381.00" r="0.75" fill="#222"/>
<circle cx="227.90" cy="354.20" r="0.6" fill="#333" fill-opacity="0.6"/>
<circle cx="228.00" cy="358.00" r="0.6" fill="#333" fill-opacity="0.6"/>
<circle cx="242.00" cy="396.50" r="0.6" fill="#333" fill-opacity="0.6"/>
<circle cx="263.80" cy="384.60" r="0.6" fill="#333" fill-opacity="0.6"/>
<circle cx="277.80" cy="393.50" r="0.6" fill="#333" fill-opacity="0.6"/>
<circle cx="278.00" cy="397.00" r="0.6" fill="#333" fill-opacity="0.6"/>
<line x1="216.70" y1="334.40" x2="216.70" y2="421.00" stroke="#222" stroke-width="1.25"/>
<line x1="216.10" y1="420.40" x2="291.30" y2="420.40" stroke="#1a1a1a" stroke-width="1.25"/>
<line x1="213.30" y1="337.10" x2="216.70" y2="337.10" stroke="#333" stroke-width="1.0"/>
<text x="210.10" y="339.70" font-size="6.6" text-anchor="end" fill="#333" textLength="7.40" lengthAdjust="spacingAndGlyphs" stroke="#333" stroke-width="0.18">10</text>
<line x1="213.30" y1="378.75" x2="216.70" y2="378.75" stroke="#333" stroke-width="1.0"/>
<text x="210.10" y="381.35" font-size="6.6" text-anchor="end" fill="#333" textLength="3.70" lengthAdjust="spacingAndGlyphs" stroke="#333" stroke-width="0.18">5</text>
<line x1="213.30" y1="420.40" x2="216.70" y2="420.40" stroke="#333" stroke-width="1.0"/>
<text x="210.10" y="423.00" font-size="6.6" text-anchor="end" fill="#333" textLength="3.70" lengthAdjust="spacingAndGlyphs" stroke="#333" stroke-width="0.18">0</text>
<text x="234.60" y="339.90" font-size="6.5" text-anchor="middle" stroke="#222" stroke-width="0.18">**</text>
<text x="234.50" y="430.20" font-size="7.2" text-anchor="middle" textLength="27.00" lengthAdjust="spacingAndGlyphs" stroke="#222" stroke-width="0.18">PDCD1+</text>
<text x="269.80" y="430.20" font-size="7.2" text-anchor="middle" textLength="22.10" lengthAdjust="spacingAndGlyphs" stroke="#222" stroke-width="0.18">TIGIT+</text>
<text x="231.70" y="443.60" font-size="5.8" font-style="italic" fill="#444" textLength="11.60" lengthAdjust="spacingAndGlyphs" stroke="#444" stroke-width="0.18">sh<tspan>Luc</tspan></text>
<text x="259.60" y="443.60" font-size="5.8" font-style="italic" fill="#444" textLength="20.20" lengthAdjust="spacingAndGlyphs" stroke="#444" stroke-width="0.18">sh<tspan>Ccnd1</tspan></text>
<rect x="223.50" y="438.70" width="5.30" height="5.10" fill="#154b89"/>
<rect x="251.00" y="438.70" width="5.30" height="5.10" fill="#c90a2c"/>
<text x="197.40" y="377.80" font-size="8.0" text-anchor="middle" fill="#1a1a1a" textLength="87.60" lengthAdjust="spacingAndGlyphs" transform="rotate(-90 197.40 377.80)" stroke="#1a1a1a" stroke-width="0.28">Frequency in CD8<tspan font-size="4.5" dy="-3">+</tspan><tspan dy="3"> T cells (%)</tspan></text>
<text x="251.50" y="354.00" font-size="7.2" fill="#333" textLength="26.40" lengthAdjust="spacingAndGlyphs" stroke="#333" stroke-width="0.18"><tspan font-style="italic">P</tspan> = .056</text>
<rect x="432.63" y="313.83" width="1.4" height="1.4" fill="#ad4a6a" fill-opacity="0.78"/>
<rect x="434.25" y="325.96" width="1.4" height="1.4" fill="#ad4a6a" fill-opacity="0.78"/>
<rect x="429.07" y="330.33" width="1.4" height="1.4" fill="#ad4a6a" fill-opacity="0.78"/>
<rect x="443.31" y="331.13" width="1.4" height="1.4" fill="#ad4a6a" fill-opacity="0.78"/>
<rect x="447.35" y="331.13" width="1.4" height="1.4" fill="#ad4a6a" fill-opacity="0.78"/>
<rect x="450.10" y="334.37" width="1.4" height="1.4" fill="#ad4a6a" fill-opacity="0.78"/>
<rect x="420.99" y="338.09" width="1.4" height="1.4" fill="#ad4a6a" fill-opacity="0.78"/>
<rect x="428.75" y="338.09" width="1.4" height="1.4" fill="#ad4a6a" fill-opacity="0.78"/>
<rect x="425.03" y="340.84" width="1.4" height="1.4" fill="#ad4a6a" fill-opacity="0.78"/>
<rect x="425.03" y="342.94" width="1.4" height="1.4" fill="#ad4a6a" fill-opacity="0.78"/>
<rect x="442.50" y="340.84" width="1.4" height="1.4" fill="#ad4a6a" fill-opacity="0.78"/>
<rect x="427.46" y="348.12" width="1.4" height="1.4" fill="#ad4a6a" fill-opacity="0.78"/>
<rect x="428.59" y="348.92" width="1.4" height="1.4" fill="#ad4a6a" fill-opacity="0.78"/>
<rect x="418.24" y="348.60" width="1.4" height="1.4" fill="#ad4a6a" fill-opacity="0.78"/>
<rect x="409.66" y="351.35" width="1.4" height="1.4" fill="#ad4a6a" fill-opacity="0.78"/>
<rect x="408.53" y="353.29" width="1.4" height="1.4" fill="#ad4a6a" fill-opacity="0.78"/>
<rect x="423.41" y="353.78" width="1.4" height="1.4" fill="#ad4a6a" fill-opacity="0.78"/>
<rect x="425.84" y="353.29" width="1.4" height="1.4" fill="#ad4a6a" fill-opacity="0.78"/>
<rect x="428.26" y="354.26" width="1.4" height="1.4" fill="#ad4a6a" fill-opacity="0.78"/>
<rect x="433.12" y="352.97" width="1.4" height="1.4" fill="#ad4a6a" fill-opacity="0.78"/>
<rect x="435.54" y="353.29" width="1.4" height="1.4" fill="#ad4a6a" fill-opacity="0.78"/>
<rect x="416.13" y="357.01" width="1.4" height="1.4" fill="#ad4a6a" fill-opacity="0.78"/>
<rect x="420.18" y="356.53" width="1.4" height="1.4" fill="#ad4a6a" fill-opacity="0.78"/>
<rect x="418.56" y="357.82" width="1.4" height="1.4" fill="#ad4a6a" fill-opacity="0.78"/>
<rect x="420.99" y="357.50" width="1.4" height="1.4" fill="#ad4a6a" fill-opacity="0.78"/>
<rect x="414.52" y="358.63" width="1.4" height="1.4" fill="#ad4a6a" fill-opacity="0.78"/>
<rect x="431.50" y="357.01" width="1.4" height="1.4" fill="#ad4a6a" fill-opacity="0.78"/>
<rect x="433.92" y="357.82" width="1.4" height="1.4" fill="#ad4a6a" fill-opacity="0.78"/>
<rect x="436.03" y="357.01" width="1.4" height="1.4" fill="#ad4a6a" fill-opacity="0.78"/>
<rect x="430.69" y="359.44" width="1.4" height="1.4" fill="#ad4a6a" fill-opacity="0.78"/>
<rect x="433.12" y="359.44" width="1.4" height="1.4" fill="#ad4a6a" fill-opacity="0.78"/>
<rect x="409.34" y="361.86" width="1.4" height="1.4" fill="#ad4a6a" fill-opacity="0.78"/>
<rect x="413.71" y="361.38" width="1.4" height="1.4" fill="#ad4a6a" fill-opacity="0.78"/>
<rect x="416.94" y="361.05" width="1.4" height="1.4" fill="#ad4a6a" fill-opacity="0.78"/>
<rect x="420.99" y="362.67" width="1.4" height="1.4" fill="#ad4a6a" fill-opacity="0.78"/>
<rect x="425.03" y="360.73" width="1.4" height="1.4" fill="#ad4a6a" fill-opacity="0.78"/>
<rect x="424.22" y="362.67" width="1.4" height="1.4" fill="#ad4a6a" fill-opacity="0.78"/>
<rect x="428.26" y="361.05" width="1.4" height="1.4" fill="#ad4a6a" fill-opacity="0.78"/>
<rect x="437.97" y="361.86" width="1.4" height="1.4" fill="#ad4a6a" fill-opacity="0.78"/>
<rect x="441.20" y="361.05" width="1.4" height="1.4" fill="#ad4a6a" fill-opacity="0.78"/>
<rect x="446.05" y="359.76" width="1.4" height="1.4" fill="#ad4a6a" fill-opacity="0.78"/>
<rect x="450.10" y="359.76" width="1.4" height="1.4" fill="#ad4a6a" fill-opacity="0.78"/>
<rect x="415.33" y="365.91" width="1.4" height="1.4" fill="#ad4a6a" fill-opacity="0.78"/>
<rect x="421.79" y="365.10" width="1.4" height="1.4" fill="#ad4a6a" fill-opacity="0.78"/>
<rect x="426.65" y="365.10" width="1.4" height="1.4" fill="#ad4a6a" fill-opacity="0.78"/>
<rect x="430.69" y="366.72" width="1.4" height="1.4" fill="#ad4a6a" fill-opacity="0.78"/>
<rect x="406.43" y="373.18" width="1.4" height="1.4" fill="#ad4a6a" fill-opacity="0.78"/>
<rect x="410.47" y="372.38" width="1.4" height="1.4" fill="#ad4a6a" fill-opacity="0.78"/>
<rect x="414.52" y="374.80" width="1.4" height="1.4" fill="#ad4a6a" fill-opacity="0.78"/>
<rect x="418.56" y="373.99" width="1.4" height="1.4" fill="#ad4a6a" fill-opacity="0.78"/>
<rect x="421.79" y="375.29" width="1.4" height="1.4" fill="#ad4a6a" fill-opacity="0.78"/>
<rect x="425.03" y="370.76" width="1.4" height="1.4" fill="#ad4a6a" fill-opacity="0.78"/>
<rect x="425.84" y="376.42" width="1.4" height="1.4" fill="#ad4a6a" fill-opacity="0.78"/>
<rect x="427.46" y="376.90" width="1.4" height="1.4" fill="#ad4a6a" fill-opacity="0.78"/>
<rect x="433.12" y="369.95" width="1.4" height="1.4" fill="#ad4a6a" fill-opacity="0.78"/>
<rect x="436.67" y="371.57" width="1.4" height="1.4" fill="#ad4a6a" fill-opacity="0.78"/>
<rect x="413.71" y="380.46" width="1.4" height="1.4" fill="#ad4a6a" fill-opacity="0.78"/>
<rect x="415.33" y="380.46" width="1.4" height="1.4" fill="#ad4a6a" fill-opacity="0.78"/>
<rect x="419.37" y="377.23" width="1.4" height="1.4" fill="#ad4a6a" fill-opacity="0.78"/>
<rect x="433.12" y="380.46" width="1.4" height="1.4" fill="#ad4a6a" fill-opacity="0.78"/>
<rect x="433.92" y="383.70" width="1.4" height="1.4" fill="#ad4a6a" fill-opacity="0.78"/>
<rect x="442.82" y="378.85" width="1.4" height="1.4" fill="#ad4a6a" fill-opacity="0.78"/>
<rect x="409.66" y="384.51" width="1.4" height="1.4" fill="#ad4a6a" fill-opacity="0.78"/>
<rect x="410.47" y="388.55" width="1.4" height="1.4" fill="#ad4a6a" fill-opacity="0.78"/>
<rect x="411.28" y="391.78" width="1.4" height="1.4" fill="#ad4a6a" fill-opacity="0.78"/>
<rect x="423.41" y="389.36" width="1.4" height="1.4" fill="#ad4a6a" fill-opacity="0.78"/>
<rect x="426.65" y="390.17" width="1.4" height="1.4" fill="#ad4a6a" fill-opacity="0.78"/>
<rect x="430.69" y="385.31" width="1.4" height="1.4" fill="#ad4a6a" fill-opacity="0.78"/>
<rect x="433.92" y="385.31" width="1.4" height="1.4" fill="#ad4a6a" fill-opacity="0.78"/>
<rect x="437.16" y="390.17" width="1.4" height="1.4" fill="#ad4a6a" fill-opacity="0.78"/>
<rect x="407.24" y="395.02" width="1.4" height="1.4" fill="#ad4a6a" fill-opacity="0.78"/>
<rect x="410.47" y="397.44" width="1.4" height="1.4" fill="#ad4a6a" fill-opacity="0.78"/>
<rect x="419.37" y="392.59" width="1.4" height="1.4" fill="#ad4a6a" fill-opacity="0.78"/>
<rect x="420.99" y="393.08" width="1.4" height="1.4" fill="#ad4a6a" fill-opacity="0.78"/>
<rect x="425.03" y="398.25" width="1.4" height="1.4" fill="#ad4a6a" fill-opacity="0.78"/>
<rect x="416.94" y="407.15" width="1.4" height="1.4" fill="#ad4a6a" fill-opacity="0.78"/>
<rect x="420.99" y="406.83" width="1.4" height="1.4" fill="#ad4a6a" fill-opacity="0.78"/>
<rect x="465.00" y="342.50" width="1.4" height="1.4" fill="#ad4a6a" fill-opacity="0.78"/>
<rect x="474.80" y="336.30" width="1.4" height="1.4" fill="#ad4a6a" fill-opacity="0.78"/>
<rect x="488.80" y="346.80" width="1.4" height="1.4" fill="#ad4a6a" fill-opacity="0.78"/>
<rect x="495.30" y="343.80" width="1.4" height="1.4" fill="#ad4a6a" fill-opacity="0.78"/>
<rect x="488.00" y="364.30" width="1.4" height="1.4" fill="#ad4a6a" fill-opacity="0.78"/>
<rect x="488.80" y="390.30" width="1.4" height="1.4" fill="#ad4a6a" fill-opacity="0.78"/>
<rect x="490.30" y="383.00" width="1.4" height="1.4" fill="#ad4a6a" fill-opacity="0.78"/>
<rect x="496.80" y="374.80" width="1.4" height="1.4" fill="#ad4a6a" fill-opacity="0.78"/>
<rect x="497.30" y="377.30" width="1.4" height="1.4" fill="#ad4a6a" fill-opacity="0.78"/>
<rect x="500.30" y="373.00" width="1.4" height="1.4" fill="#ad4a6a" fill-opacity="0.78"/>
<rect x="509.30" y="358.00" width="1.4" height="1.4" fill="#ad4a6a" fill-opacity="0.78"/>
<rect x="476.80" y="361.80" width="1.4" height="1.4" fill="#ad4a6a" fill-opacity="0.78"/>
<rect x="463.30" y="363.00" width="1.4" height="1.4" fill="#ad4a6a" fill-opacity="0.78"/>
<rect x="446.80" y="331.30" width="1.4" height="1.4" fill="#ad4a6a" fill-opacity="0.78"/>
<rect x="449.30" y="334.30" width="1.4" height="1.4" fill="#ad4a6a" fill-opacity="0.78"/>
<rect x="442.30" y="340.30" width="1.4" height="1.4" fill="#ad4a6a" fill-opacity="0.78"/>
<rect x="457.30" y="354.30" width="1.4" height="1.4" fill="#ad4a6a" fill-opacity="0.78"/>
<rect x="454.30" y="365.30" width="1.4" height="1.4" fill="#ad4a6a" fill-opacity="0.78"/>
<rect x="469.30" y="349.30" width="1.4" height="1.4" fill="#ad4a6a" fill-opacity="0.78"/>
<rect x="410.84" y="360.83" width="1.4" height="1.4" fill="#ad4a6a" fill-opacity="0.78"/>
<rect x="435.24" y="350.14" width="1.4" height="1.4" fill="#ad4a6a" fill-opacity="0.78"/>
<rect x="409.68" y="355.51" width="1.4" height="1.4" fill="#ad4a6a" fill-opacity="0.78"/>
<rect x="429.56" y="369.48" width="1.4" height="1.4" fill="#ad4a6a" fill-opacity="0.78"/>
<rect x="410.93" y="340.79" width="1.4" height="1.4" fill="#ad4a6a" fill-opacity="0.78"/>
<rect x="432.07" y="361.99" width="1.4" height="1.4" fill="#ad4a6a" fill-opacity="0.78"/>
<rect x="441.17" y="368.09" width="1.4" height="1.4" fill="#ad4a6a" fill-opacity="0.78"/>
<rect x="423.18" y="353.01" width="1.4" height="1.4" fill="#ad4a6a" fill-opacity="0.78"/>
<rect x="452.58" y="352.83" width="1.4" height="1.4" fill="#ad4a6a" fill-opacity="0.78"/>
<rect x="415.67" y="342.64" width="1.4" height="1.4" fill="#ad4a6a" fill-opacity="0.78"/>
<rect x="425.35" y="358.04" width="1.4" height="1.4" fill="#ad4a6a" fill-opacity="0.78"/>
<rect x="420.51" y="355.55" width="1.4" height="1.4" fill="#ad4a6a" fill-opacity="0.78"/>
<rect x="427.30" y="364.61" width="1.4" height="1.4" fill="#ad4a6a" fill-opacity="0.78"/>
<rect x="436.36" y="358.82" width="1.4" height="1.4" fill="#ad4a6a" fill-opacity="0.78"/>
<rect x="404.61" y="364.72" width="1.4" height="1.4" fill="#ad4a6a" fill-opacity="0.78"/>
<rect x="408.68" y="354.24" width="1.4" height="1.4" fill="#ad4a6a" fill-opacity="0.78"/>
<rect x="408.09" y="356.33" width="1.4" height="1.4" fill="#ad4a6a" fill-opacity="0.78"/>
<rect x="415.74" y="358.87" width="1.4" height="1.4" fill="#ad4a6a" fill-opacity="0.78"/>
<rect x="460.60" y="355.72" width="1.4" height="1.4" fill="#ad4a6a" fill-opacity="0.78"/>
<rect x="433.57" y="340.42" width="1.4" height="1.4" fill="#ad4a6a" fill-opacity="0.78"/>
<rect x="421.13" y="364.25" width="1.4" height="1.4" fill="#ad4a6a" fill-opacity="0.78"/>
<rect x="423.28" y="360.74" width="1.4" height="1.4" fill="#ad4a6a" fill-opacity="0.78"/>
<rect x="425.44" y="344.23" width="1.4" height="1.4" fill="#ad4a6a" fill-opacity="0.78"/>
<rect x="430.50" y="346.56" width="1.4" height="1.4" fill="#ad4a6a" fill-opacity="0.78"/>
<rect x="444.89" y="350.24" width="1.4" height="1.4" fill="#ad4a6a" fill-opacity="0.78"/>
<rect x="431.85" y="356.33" width="1.4" height="1.4" fill="#ad4a6a" fill-opacity="0.78"/>
<rect x="434.78" y="349.07" width="1.4" height="1.4" fill="#ad4a6a" fill-opacity="0.78"/>
<rect x="435.29" y="354.81" width="1.4" height="1.4" fill="#ad4a6a" fill-opacity="0.78"/>
<rect x="438.20" y="363.79" width="1.4" height="1.4" fill="#ad4a6a" fill-opacity="0.78"/>
<rect x="425.85" y="346.94" width="1.4" height="1.4" fill="#ad4a6a" fill-opacity="0.78"/>
<rect x="432.75" y="361.92" width="1.4" height="1.4" fill="#ad4a6a" fill-opacity="0.78"/>
<rect x="442.36" y="351.78" width="1.4" height="1.4" fill="#ad4a6a" fill-opacity="0.78"/>
<rect x="430.40" y="362.40" width="1.4" height="1.4" fill="#ad4a6a" fill-opacity="0.78"/>
<rect x="427.41" y="358.80" width="1.4" height="1.4" fill="#ad4a6a" fill-opacity="0.78"/>
<rect x="426.30" y="349.12" width="1.4" height="1.4" fill="#ad4a6a" fill-opacity="0.78"/>
<rect x="398.80" y="328.10" width="1.4" height="1.4" fill="#ad4a6a" fill-opacity="0.78"/>
<rect x="398.80" y="338.10" width="1.4" height="1.4" fill="#ad4a6a" fill-opacity="0.78"/>
<rect x="398.80" y="343.30" width="1.4" height="1.4" fill="#ad4a6a" fill-opacity="0.78"/>
<rect x="398.80" y="349.00" width="1.4" height="1.4" fill="#ad4a6a" fill-opacity="0.78"/>
<rect x="398.80" y="354.30" width="1.4" height="1.4" fill="#ad4a6a" fill-opacity="0.78"/>
<rect x="398.80" y="359.10" width="1.4" height="1.4" fill="#ad4a6a" fill-opacity="0.78"/>
<rect x="398.80" y="361.50" width="1.4" height="1.4" fill="#ad4a6a" fill-opacity="0.78"/>
<rect x="398.80" y="365.30" width="1.4" height="1.4" fill="#ad4a6a" fill-opacity="0.78"/>
<rect x="398.80" y="367.80" width="1.4" height="1.4" fill="#ad4a6a" fill-opacity="0.78"/>
<rect x="398.80" y="369.30" width="1.4" height="1.4" fill="#ad4a6a" fill-opacity="0.78"/>
<rect x="398.80" y="370.50" width="1.4" height="1.4" fill="#ad4a6a" fill-opacity="0.78"/>
<rect x="398.80" y="371.70" width="1.4" height="1.4" fill="#ad4a6a" fill-opacity="0.78"/>
<rect x="398.80" y="372.90" width="1.4" height="1.4" fill="#ad4a6a" fill-opacity="0.78"/>
<rect x="398.80" y="374.10" width="1.4" height="1.4" fill="#ad4a6a" fill-opacity="0.78"/>
<rect x="398.80" y="375.30" width="1.4" height="1.4" fill="#ad4a6a" fill-opacity="0.78"/>
<rect x="398.80" y="376.50" width="1.4" height="1.4" fill="#ad4a6a" fill-opacity="0.78"/>
<rect x="398.80" y="377.70" width="1.4" height="1.4" fill="#ad4a6a" fill-opacity="0.78"/>
<rect x="398.80" y="378.90" width="1.4" height="1.4" fill="#ad4a6a" fill-opacity="0.78"/>
<rect x="398.80" y="380.10" width="1.4" height="1.4" fill="#ad4a6a" fill-opacity="0.78"/>
<rect x="398.80" y="381.30" width="1.4" height="1.4" fill="#ad4a6a" fill-opacity="0.78"/>
<rect x="398.80" y="382.50" width="1.4" height="1.4" fill="#ad4a6a" fill-opacity="0.78"/>
<rect x="398.80" y="383.70" width="1.4" height="1.4" fill="#ad4a6a" fill-opacity="0.78"/>
<rect x="398.80" y="384.90" width="1.4" height="1.4" fill="#ad4a6a" fill-opacity="0.78"/>
<rect x="398.80" y="386.10" width="1.4" height="1.4" fill="#ad4a6a" fill-opacity="0.78"/>
<rect x="398.80" y="387.30" width="1.4" height="1.4" fill="#ad4a6a" fill-opacity="0.78"/>
<rect x="398.80" y="388.50" width="1.4" height="1.4" fill="#ad4a6a" fill-opacity="0.78"/>
<rect x="398.80" y="389.70" width="1.4" height="1.4" fill="#ad4a6a" fill-opacity="0.78"/>
<rect x="398.80" y="390.90" width="1.4" height="1.4" fill="#ad4a6a" fill-opacity="0.78"/>
<rect x="398.80" y="392.10" width="1.4" height="1.4" fill="#ad4a6a" fill-opacity="0.78"/>
<rect x="398.80" y="393.30" width="1.4" height="1.4" fill="#ad4a6a" fill-opacity="0.78"/>
<rect x="398.80" y="394.50" width="1.4" height="1.4" fill="#ad4a6a" fill-opacity="0.78"/>
<rect x="398.80" y="395.70" width="1.4" height="1.4" fill="#ad4a6a" fill-opacity="0.78"/>
<rect x="398.80" y="396.90" width="1.4" height="1.4" fill="#ad4a6a" fill-opacity="0.78"/>
<rect x="398.80" y="398.10" width="1.4" height="1.4" fill="#ad4a6a" fill-opacity="0.78"/>
<rect x="398.80" y="399.30" width="1.4" height="1.4" fill="#ad4a6a" fill-opacity="0.78"/>
<rect x="398.80" y="400.50" width="1.4" height="1.4" fill="#ad4a6a" fill-opacity="0.78"/>
<rect x="398.80" y="401.70" width="1.4" height="1.4" fill="#ad4a6a" fill-opacity="0.78"/>
<rect x="398.80" y="402.90" width="1.4" height="1.4" fill="#ad4a6a" fill-opacity="0.78"/>
<rect x="398.80" y="404.10" width="1.4" height="1.4" fill="#ad4a6a" fill-opacity="0.78"/>
<rect x="398.80" y="406.30" width="1.4" height="1.4" fill="#ad4a6a" fill-opacity="0.78"/>
<rect x="398.80" y="409.30" width="1.4" height="1.4" fill="#ad4a6a" fill-opacity="0.78"/>
<rect x="398.80" y="412.30" width="1.4" height="1.4" fill="#ad4a6a" fill-opacity="0.78"/>
<rect x="398.80" y="415.60" width="1.4" height="1.4" fill="#ad4a6a" fill-opacity="0.78"/>
<line x1="399.20" y1="372.50" x2="511.70" y2="352.50" stroke="#b3203e" stroke-width="1.3"/>
<line x1="395.70" y1="312.10" x2="395.70" y2="421.30" stroke="#1a1a1a" stroke-width="1.25"/>
<line x1="395.10" y1="420.70" x2="515.00" y2="420.70" stroke="#1a1a1a" stroke-width="1.25"/>
<line x1="392.30" y1="320.40" x2="395.70" y2="320.40" stroke="#333" stroke-width="1.0"/>
<text x="389.50" y="322.50" font-size="6.6" text-anchor="end" fill="#333" textLength="7.20" lengthAdjust="spacingAndGlyphs" stroke="#333" stroke-width="0.18">40</text>
<line x1="392.30" y1="344.50" x2="395.70" y2="344.50" stroke="#333" stroke-width="1.0"/>
<text x="389.50" y="346.60" font-size="6.6" text-anchor="end" fill="#333" textLength="7.20" lengthAdjust="spacingAndGlyphs" stroke="#333" stroke-width="0.18">20</text>
<line x1="392.30" y1="368.60" x2="395.70" y2="368.60" stroke="#333" stroke-width="1.0"/>
<text x="389.50" y="370.70" font-size="6.6" text-anchor="end" fill="#333" textLength="3.60" lengthAdjust="spacingAndGlyphs" stroke="#333" stroke-width="0.18">0</text>
<line x1="392.30" y1="392.70" x2="395.70" y2="392.70" stroke="#333" stroke-width="1.0"/>
<text x="389.50" y="394.80" font-size="6.6" text-anchor="end" fill="#333" textLength="10.80" lengthAdjust="spacingAndGlyphs" stroke="#333" stroke-width="0.18">−20</text>
<line x1="392.30" y1="416.80" x2="395.70" y2="416.80" stroke="#333" stroke-width="1.0"/>
<text x="389.50" y="418.90" font-size="6.6" text-anchor="end" fill="#333" textLength="10.80" lengthAdjust="spacingAndGlyphs" stroke="#333" stroke-width="0.18">−40</text>
<line x1="413.00" y1="420.70" x2="413.00" y2="423.50" stroke="#333" stroke-width="1.0"/>
<text x="413.00" y="433.70" font-size="6.7" text-anchor="middle" fill="#333" textLength="3.60" lengthAdjust="spacingAndGlyphs" stroke="#333" stroke-width="0.18">0</text>
<line x1="450.00" y1="420.70" x2="450.00" y2="423.50" stroke="#333" stroke-width="1.0"/>
<text x="450.00" y="433.70" font-size="6.7" text-anchor="middle" fill="#333" textLength="3.60" lengthAdjust="spacingAndGlyphs" stroke="#333" stroke-width="0.18">5</text>
<line x1="487.00" y1="420.70" x2="487.00" y2="423.50" stroke="#333" stroke-width="1.0"/>
<text x="487.00" y="433.70" font-size="6.7" text-anchor="middle" fill="#333" textLength="7.20" lengthAdjust="spacingAndGlyphs" stroke="#333" stroke-width="0.18">10</text>
<text x="455.70" y="306.90" font-size="9.4" text-anchor="middle" textLength="24.60" lengthAdjust="spacingAndGlyphs" stroke="#222" stroke-width="0.18">TCGA</text>
<text x="429.50" y="446.20" font-size="8.8" fill="#1a1a1a" textLength="43.50" lengthAdjust="spacingAndGlyphs" stroke="#1a1a1a" stroke-width="0.38">LOG2_MECOM</text>
<text x="370.30" y="368.50" font-size="8.8" text-anchor="middle" fill="#1a1a1a" textLength="34.00" lengthAdjust="spacingAndGlyphs" transform="rotate(-90 370.30 368.50)" stroke="#1a1a1a" stroke-width="0.38">IFNG_score</text>
<text x="403.70" y="468.70" font-size="6.3" fill="#333" textLength="95.50" lengthAdjust="spacingAndGlyphs" stroke="#333" stroke-width="0.18">r = 0.266, 95% CI 0.123-0.398</text>
<text x="423.20" y="477.60" font-size="6.3" fill="#333" textLength="55.50" lengthAdjust="spacingAndGlyphs" stroke="#333" stroke-width="0.18"><tspan font-style="italic">P</tspan> value = .000359</text>
<rect x="353.45" y="356.00" width="6.70" height="21.30" fill="none" stroke="#444" stroke-width="0.7"/>
<line x1="353.45" y1="366.00" x2="360.15" y2="366.00" stroke="#444" stroke-width="0.7"/>
<line x1="356.80" y1="326.30" x2="356.80" y2="356.00" stroke="#444" stroke-width="0.6"/>
<line x1="356.80" y1="377.30" x2="356.80" y2="403.30" stroke="#444" stroke-width="0.6"/>
<rect x="356.30" y="314.10" width="1" height="1" fill="#888"/>
<rect x="356.30" y="411.70" width="1" height="1" fill="#888"/>
<rect x="399.20" y="451.20" width="32.00" height="7.50" fill="none" stroke="#444" stroke-width="0.7"/>
<line x1="419.20" y1="451.20" x2="419.20" y2="458.70" stroke="#444" stroke-width="0.7"/>
<line x1="399.20" y1="454.95" x2="399.20" y2="454.95" stroke="#444" stroke-width="0.6"/>
<line x1="431.20" y1="454.95" x2="473.70" y2="454.95" stroke="#444" stroke-width="0.6"/>
<rect x="483.20" y="454.50" width="1" height="1" fill="#b03c58"/>
<rect x="485.00" y="454.50" width="1" height="1" fill="#b03c58"/>
<rect x="489.50" y="454.50" width="1" height="1" fill="#b03c58"/>
<rect x="494.00" y="454.50" width="1" height="1" fill="#b03c58"/>
<rect x="505.50" y="454.50" width="1" height="1" fill="#b03c58"/>
<rect x="103.05" y="517.30" width="1.4" height="1.4" fill="#ad4a6a" fill-opacity="0.78"/>
<rect x="103.05" y="519.30" width="1.4" height="1.4" fill="#ad4a6a" fill-opacity="0.78"/>
<rect x="128.05" y="519.30" width="1.4" height="1.4" fill="#ad4a6a" fill-opacity="0.78"/>
<rect x="134.30" y="523.80" width="1.4" height="1.4" fill="#ad4a6a" fill-opacity="0.78"/>
<rect x="89.80" y="528.55" width="1.4" height="1.4" fill="#ad4a6a" fill-opacity="0.78"/>
<rect x="96.80" y="530.55" width="1.4" height="1.4" fill="#ad4a6a" fill-opacity="0.78"/>
<rect x="81.80" y="533.05" width="1.4" height="1.4" fill="#ad4a6a" fill-opacity="0.78"/>
<rect x="79.30" y="535.55" width="1.4" height="1.4" fill="#ad4a6a" fill-opacity="0.78"/>
<rect x="101.80" y="533.05" width="1.4" height="1.4" fill="#ad4a6a" fill-opacity="0.78"/>
<rect x="104.30" y="533.55" width="1.4" height="1.4" fill="#ad4a6a" fill-opacity="0.78"/>
<rect x="70.55" y="540.55" width="1.4" height="1.4" fill="#ad4a6a" fill-opacity="0.78"/>
<rect x="75.55" y="542.30" width="1.4" height="1.4" fill="#ad4a6a" fill-opacity="0.78"/>
<rect x="101.80" y="543.05" width="1.4" height="1.4" fill="#ad4a6a" fill-opacity="0.78"/>
<rect x="115.55" y="543.05" width="1.4" height="1.4" fill="#ad4a6a" fill-opacity="0.78"/>
<rect x="126.80" y="544.30" width="1.4" height="1.4" fill="#ad4a6a" fill-opacity="0.78"/>
<rect x="74.30" y="546.80" width="1.4" height="1.4" fill="#ad4a6a" fill-opacity="0.78"/>
<rect x="78.05" y="547.55" width="1.4" height="1.4" fill="#ad4a6a" fill-opacity="0.78"/>
<rect x="86.80" y="548.05" width="1.4" height="1.4" fill="#ad4a6a" fill-opacity="0.78"/>
<rect x="93.05" y="548.80" width="1.4" height="1.4" fill="#ad4a6a" fill-opacity="0.78"/>
<rect x="111.80" y="546.80" width="1.4" height="1.4" fill="#ad4a6a" fill-opacity="0.78"/>
<rect x="120.55" y="547.55" width="1.4" height="1.4" fill="#ad4a6a" fill-opacity="0.78"/>
<rect x="153.05" y="548.05" width="1.4" height="1.4" fill="#ad4a6a" fill-opacity="0.78"/>
<rect x="91.80" y="554.30" width="1.4" height="1.4" fill="#ad4a6a" fill-opacity="0.78"/>
<rect x="104.30" y="554.30" width="1.4" height="1.4" fill="#ad4a6a" fill-opacity="0.78"/>
<rect x="113.05" y="555.55" width="1.4" height="1.4" fill="#ad4a6a" fill-opacity="0.78"/>
<rect x="116.80" y="556.80" width="1.4" height="1.4" fill="#ad4a6a" fill-opacity="0.78"/>
<rect x="124.30" y="553.05" width="1.4" height="1.4" fill="#ad4a6a" fill-opacity="0.78"/>
<rect x="130.55" y="553.80" width="1.4" height="1.4" fill="#ad4a6a" fill-opacity="0.78"/>
<rect x="51.80" y="566.80" width="1.4" height="1.4" fill="#ad4a6a" fill-opacity="0.78"/>
<rect x="51.80" y="569.30" width="1.4" height="1.4" fill="#ad4a6a" fill-opacity="0.78"/>
<rect x="79.30" y="560.55" width="1.4" height="1.4" fill="#ad4a6a" fill-opacity="0.78"/>
<rect x="80.55" y="564.30" width="1.4" height="1.4" fill="#ad4a6a" fill-opacity="0.78"/>
<rect x="84.30" y="566.80" width="1.4" height="1.4" fill="#ad4a6a" fill-opacity="0.78"/>
<rect x="88.05" y="566.80" width="1.4" height="1.4" fill="#ad4a6a" fill-opacity="0.78"/>
<rect x="90.55" y="568.05" width="1.4" height="1.4" fill="#ad4a6a" fill-opacity="0.78"/>
<rect x="96.80" y="561.80" width="1.4" height="1.4" fill="#ad4a6a" fill-opacity="0.78"/>
<rect x="99.30" y="563.05" width="1.4" height="1.4" fill="#ad4a6a" fill-opacity="0.78"/>
<rect x="103.05" y="561.30" width="1.4" height="1.4" fill="#ad4a6a" fill-opacity="0.78"/>
<rect x="105.55" y="561.80" width="1.4" height="1.4" fill="#ad4a6a" fill-opacity="0.78"/>
<rect x="109.30" y="568.05" width="1.4" height="1.4" fill="#ad4a6a" fill-opacity="0.78"/>
<rect x="71.80" y="571.80" width="1.4" height="1.4" fill="#ad4a6a" fill-opacity="0.78"/>
<rect x="74.30" y="572.30" width="1.4" height="1.4" fill="#ad4a6a" fill-opacity="0.78"/>
<rect x="78.05" y="574.30" width="1.4" height="1.4" fill="#ad4a6a" fill-opacity="0.78"/>
<rect x="83.05" y="571.80" width="1.4" height="1.4" fill="#ad4a6a" fill-opacity="0.78"/>
<rect x="88.05" y="573.05" width="1.4" height="1.4" fill="#ad4a6a" fill-opacity="0.78"/>
<rect x="91.80" y="571.80" width="1.4" height="1.4" fill="#ad4a6a" fill-opacity="0.78"/>
<rect x="95.55" y="572.30" width="1.4" height="1.4" fill="#ad4a6a" fill-opacity="0.78"/>
<rect x="99.30" y="574.30" width="1.4" height="1.4" fill="#ad4a6a" fill-opacity="0.78"/>
<rect x="104.30" y="574.30" width="1.4" height="1.4" fill="#ad4a6a" fill-opacity="0.78"/>
<rect x="109.30" y="571.80" width="1.4" height="1.4" fill="#ad4a6a" fill-opacity="0.78"/>
<rect x="114.30" y="573.05" width="1.4" height="1.4" fill="#ad4a6a" fill-opacity="0.78"/>
<rect x="119.30" y="574.30" width="1.4" height="1.4" fill="#ad4a6a" fill-opacity="0.78"/>
<rect x="136.80" y="564.30" width="1.4" height="1.4" fill="#ad4a6a" fill-opacity="0.78"/>
<rect x="139.30" y="565.55" width="1.4" height="1.4" fill="#ad4a6a" fill-opacity="0.78"/>
<rect x="60.55" y="580.55" width="1.4" height="1.4" fill="#ad4a6a" fill-opacity="0.78"/>
<rect x="64.30" y="580.55" width="1.4" height="1.4" fill="#ad4a6a" fill-opacity="0.78"/>
<rect x="70.55" y="579.30" width="1.4" height="1.4" fill="#ad4a6a" fill-opacity="0.78"/>
<rect x="78.05" y="578.05" width="1.4" height="1.4" fill="#ad4a6a" fill-opacity="0.78"/>
<rect x="84.30" y="579.30" width="1.4" height="1.4" fill="#ad4a6a" fill-opacity="0.78"/>
<rect x="90.55" y="580.55" width="1.4" height="1.4" fill="#ad4a6a" fill-opacity="0.78"/>
<rect x="96.80" y="581.80" width="1.4" height="1.4" fill="#ad4a6a" fill-opacity="0.78"/>
<rect x="101.80" y="580.55" width="1.4" height="1.4" fill="#ad4a6a" fill-opacity="0.78"/>
<rect x="106.80" y="579.30" width="1.4" height="1.4" fill="#ad4a6a" fill-opacity="0.78"/>
<rect x="111.80" y="580.55" width="1.4" height="1.4" fill="#ad4a6a" fill-opacity="0.78"/>
<rect x="120.55" y="578.05" width="1.4" height="1.4" fill="#ad4a6a" fill-opacity="0.78"/>
<rect x="61.80" y="589.30" width="1.4" height="1.4" fill="#ad4a6a" fill-opacity="0.78"/>
<rect x="66.80" y="588.05" width="1.4" height="1.4" fill="#ad4a6a" fill-opacity="0.78"/>
<rect x="74.30" y="586.80" width="1.4" height="1.4" fill="#ad4a6a" fill-opacity="0.78"/>
<rect x="80.55" y="589.30" width="1.4" height="1.4" fill="#ad4a6a" fill-opacity="0.78"/>
<rect x="86.80" y="588.05" width="1.4" height="1.4" fill="#ad4a6a" fill-opacity="0.78"/>
<rect x="94.30" y="585.55" width="1.4" height="1.4" fill="#ad4a6a" fill-opacity="0.78"/>
<rect x="100.55" y="586.80" width="1.4" height="1.4" fill="#ad4a6a" fill-opacity="0.78"/>
<rect x="103.05" y="589.30" width="1.4" height="1.4" fill="#ad4a6a" fill-opacity="0.78"/>
<rect x="106.80" y="588.05" width="1.4" height="1.4" fill="#ad4a6a" fill-opacity="0.78"/>
<rect x="115.55" y="589.30" width="1.4" height="1.4" fill="#ad4a6a" fill-opacity="0.78"/>
<rect x="120.55" y="587.30" width="1.4" height="1.4" fill="#ad4a6a" fill-opacity="0.78"/>
<rect x="66.80" y="593.05" width="1.4" height="1.4" fill="#ad4a6a" fill-opacity="0.78"/>
<rect x="71.80" y="593.05" width="1.4" height="1.4" fill="#ad4a6a" fill-opacity="0.78"/>
<rect x="79.30" y="591.80" width="1.4" height="1.4" fill="#ad4a6a" fill-opacity="0.78"/>
<rect x="86.80" y="591.80" width="1.4" height="1.4" fill="#ad4a6a" fill-opacity="0.78"/>
<rect x="94.30" y="593.05" width="1.4" height="1.4" fill="#ad4a6a" fill-opacity="0.78"/>
<rect x="100.55" y="594.30" width="1.4" height="1.4" fill="#ad4a6a" fill-opacity="0.78"/>
<rect x="105.55" y="593.05" width="1.4" height="1.4" fill="#ad4a6a" fill-opacity="0.78"/>
<rect x="68.05" y="598.05" width="1.4" height="1.4" fill="#ad4a6a" fill-opacity="0.78"/>
<rect x="73.05" y="596.80" width="1.4" height="1.4" fill="#ad4a6a" fill-opacity="0.78"/>
<rect x="78.05" y="596.30" width="1.4" height="1.4" fill="#ad4a6a" fill-opacity="0.78"/>
<rect x="93.05" y="596.80" width="1.4" height="1.4" fill="#ad4a6a" fill-opacity="0.78"/>
<rect x="136.80" y="596.80" width="1.4" height="1.4" fill="#ad4a6a" fill-opacity="0.78"/>
<rect x="43.05" y="598.05" width="1.4" height="1.4" fill="#ad4a6a" fill-opacity="0.78"/>
<rect x="79.30" y="608.05" width="1.4" height="1.4" fill="#ad4a6a" fill-opacity="0.78"/>
<rect x="81.80" y="608.55" width="1.4" height="1.4" fill="#ad4a6a" fill-opacity="0.78"/>
<rect x="91.80" y="611.80" width="1.4" height="1.4" fill="#ad4a6a" fill-opacity="0.78"/>
<rect x="76.80" y="616.80" width="1.4" height="1.4" fill="#ad4a6a" fill-opacity="0.78"/>
<rect x="85.55" y="576.80" width="1.4" height="1.4" fill="#ad4a6a" fill-opacity="0.78"/>
<rect x="98.05" y="576.80" width="1.4" height="1.4" fill="#ad4a6a" fill-opacity="0.78"/>
<rect x="90.55" y="584.30" width="1.4" height="1.4" fill="#ad4a6a" fill-opacity="0.78"/>
<rect x="83.05" y="583.05" width="1.4" height="1.4" fill="#ad4a6a" fill-opacity="0.78"/>
<rect x="100.55" y="566.80" width="1.4" height="1.4" fill="#ad4a6a" fill-opacity="0.78"/>
<rect x="94.30" y="569.30" width="1.4" height="1.4" fill="#ad4a6a" fill-opacity="0.78"/>
<rect x="75.07" y="576.33" width="1.4" height="1.4" fill="#ad4a6a" fill-opacity="0.78"/>
<rect x="91.41" y="567.06" width="1.4" height="1.4" fill="#ad4a6a" fill-opacity="0.78"/>
<rect x="108.84" y="574.16" width="1.4" height="1.4" fill="#ad4a6a" fill-opacity="0.78"/>
<rect x="91.46" y="596.74" width="1.4" height="1.4" fill="#ad4a6a" fill-opacity="0.78"/>
<rect x="88.38" y="556.88" width="1.4" height="1.4" fill="#ad4a6a" fill-opacity="0.78"/>
<rect x="76.06" y="566.46" width="1.4" height="1.4" fill="#ad4a6a" fill-opacity="0.78"/>
<rect x="104.52" y="584.38" width="1.4" height="1.4" fill="#ad4a6a" fill-opacity="0.78"/>
<rect x="111.24" y="597.38" width="1.4" height="1.4" fill="#ad4a6a" fill-opacity="0.78"/>
<rect x="119.43" y="581.98" width="1.4" height="1.4" fill="#ad4a6a" fill-opacity="0.78"/>
<rect x="114.33" y="582.25" width="1.4" height="1.4" fill="#ad4a6a" fill-opacity="0.78"/>
<rect x="87.89" y="584.61" width="1.4" height="1.4" fill="#ad4a6a" fill-opacity="0.78"/>
<rect x="96.79" y="571.19" width="1.4" height="1.4" fill="#ad4a6a" fill-opacity="0.78"/>
<rect x="124.15" y="584.06" width="1.4" height="1.4" fill="#ad4a6a" fill-opacity="0.78"/>
<rect x="89.19" y="572.98" width="1.4" height="1.4" fill="#ad4a6a" fill-opacity="0.78"/>
<rect x="129.09" y="570.76" width="1.4" height="1.4" fill="#ad4a6a" fill-opacity="0.78"/>
<rect x="106.47" y="582.16" width="1.4" height="1.4" fill="#ad4a6a" fill-opacity="0.78"/>
<rect x="103.31" y="581.75" width="1.4" height="1.4" fill="#ad4a6a" fill-opacity="0.78"/>
<rect x="89.25" y="567.93" width="1.4" height="1.4" fill="#ad4a6a" fill-opacity="0.78"/>
<rect x="93.81" y="569.31" width="1.4" height="1.4" fill="#ad4a6a" fill-opacity="0.78"/>
<rect x="107.53" y="594.34" width="1.4" height="1.4" fill="#ad4a6a" fill-opacity="0.78"/>
<rect x="83.47" y="581.23" width="1.4" height="1.4" fill="#ad4a6a" fill-opacity="0.78"/>
<rect x="82.18" y="564.91" width="1.4" height="1.4" fill="#ad4a6a" fill-opacity="0.78"/>
<rect x="92.69" y="575.45" width="1.4" height="1.4" fill="#ad4a6a" fill-opacity="0.78"/>
<rect x="89.87" y="539.65" width="1.4" height="1.4" fill="#ad4a6a" fill-opacity="0.78"/>
<rect x="115.74" y="570.45" width="1.4" height="1.4" fill="#ad4a6a" fill-opacity="0.78"/>
<rect x="87.06" y="582.99" width="1.4" height="1.4" fill="#ad4a6a" fill-opacity="0.78"/>
<rect x="87.60" y="555.20" width="1.4" height="1.4" fill="#ad4a6a" fill-opacity="0.78"/>
<rect x="103.04" y="579.54" width="1.4" height="1.4" fill="#ad4a6a" fill-opacity="0.78"/>
<rect x="84.35" y="585.08" width="1.4" height="1.4" fill="#ad4a6a" fill-opacity="0.78"/>
<rect x="101.38" y="559.07" width="1.4" height="1.4" fill="#ad4a6a" fill-opacity="0.78"/>
<rect x="120.93" y="577.55" width="1.4" height="1.4" fill="#ad4a6a" fill-opacity="0.78"/>
<rect x="79.97" y="579.98" width="1.4" height="1.4" fill="#ad4a6a" fill-opacity="0.78"/>
<rect x="97.87" y="586.82" width="1.4" height="1.4" fill="#ad4a6a" fill-opacity="0.78"/>
<rect x="76.92" y="587.74" width="1.4" height="1.4" fill="#ad4a6a" fill-opacity="0.78"/>
<rect x="109.44" y="583.17" width="1.4" height="1.4" fill="#ad4a6a" fill-opacity="0.78"/>
<rect x="104.74" y="591.34" width="1.4" height="1.4" fill="#ad4a6a" fill-opacity="0.78"/>
<rect x="106.26" y="575.70" width="1.4" height="1.4" fill="#ad4a6a" fill-opacity="0.78"/>
<rect x="84.18" y="588.66" width="1.4" height="1.4" fill="#ad4a6a" fill-opacity="0.78"/>
<rect x="110.00" y="577.93" width="1.4" height="1.4" fill="#ad4a6a" fill-opacity="0.78"/>
<rect x="98.22" y="583.53" width="1.4" height="1.4" fill="#ad4a6a" fill-opacity="0.78"/>
<rect x="60.34" y="578.18" width="1.4" height="1.4" fill="#ad4a6a" fill-opacity="0.78"/>
<rect x="60.57" y="577.16" width="1.4" height="1.4" fill="#ad4a6a" fill-opacity="0.78"/>
<rect x="111.05" y="598.96" width="1.4" height="1.4" fill="#ad4a6a" fill-opacity="0.78"/>
<rect x="89.34" y="579.64" width="1.4" height="1.4" fill="#ad4a6a" fill-opacity="0.78"/>
<rect x="95.01" y="544.64" width="1.4" height="1.4" fill="#ad4a6a" fill-opacity="0.78"/>
<rect x="106.36" y="573.73" width="1.4" height="1.4" fill="#ad4a6a" fill-opacity="0.78"/>
<rect x="96.96" y="561.51" width="1.4" height="1.4" fill="#ad4a6a" fill-opacity="0.78"/>
<rect x="95.40" y="575.01" width="1.4" height="1.4" fill="#ad4a6a" fill-opacity="0.78"/>
<rect x="114.14" y="577.79" width="1.4" height="1.4" fill="#ad4a6a" fill-opacity="0.78"/>
<rect x="145.51" y="568.54" width="1.4" height="1.4" fill="#ad4a6a" fill-opacity="0.78"/>
<line x1="43.70" y1="592.50" x2="153.70" y2="550.50" stroke="#b3203e" stroke-width="1.3"/>
<line x1="38.90" y1="514.00" x2="38.90" y2="622.80" stroke="#1a1a1a" stroke-width="1.25"/>
<line x1="38.30" y1="622.20" x2="158.60" y2="622.20" stroke="#1a1a1a" stroke-width="1.25"/>
<line x1="35.50" y1="524.40" x2="38.90" y2="524.40" stroke="#333" stroke-width="1.0"/>
<text x="32.70" y="526.50" font-size="6.6" text-anchor="end" fill="#333" textLength="7.20" lengthAdjust="spacingAndGlyphs" stroke="#333" stroke-width="0.18">10</text>
<line x1="35.50" y1="544.44" x2="38.90" y2="544.44" stroke="#333" stroke-width="1.0"/>
<text x="32.70" y="546.54" font-size="6.6" text-anchor="end" fill="#333" textLength="3.60" lengthAdjust="spacingAndGlyphs" stroke="#333" stroke-width="0.18">8</text>
<line x1="35.50" y1="564.48" x2="38.90" y2="564.48" stroke="#333" stroke-width="1.0"/>
<text x="32.70" y="566.58" font-size="6.6" text-anchor="end" fill="#333" textLength="3.60" lengthAdjust="spacingAndGlyphs" stroke="#333" stroke-width="0.18">6</text>
<line x1="35.50" y1="584.52" x2="38.90" y2="584.52" stroke="#333" stroke-width="1.0"/>
<text x="32.70" y="586.62" font-size="6.6" text-anchor="end" fill="#333" textLength="3.60" lengthAdjust="spacingAndGlyphs" stroke="#333" stroke-width="0.18">4</text>
<line x1="35.50" y1="604.56" x2="38.90" y2="604.56" stroke="#333" stroke-width="1.0"/>
<text x="32.70" y="606.66" font-size="6.6" text-anchor="end" fill="#333" textLength="3.60" lengthAdjust="spacingAndGlyphs" stroke="#333" stroke-width="0.18">2</text>
<line x1="43.30" y1="622.20" x2="43.30" y2="625.00" stroke="#333" stroke-width="1.0"/>
<text x="43.30" y="635.20" font-size="6.7" text-anchor="middle" fill="#333" textLength="10.80" lengthAdjust="spacingAndGlyphs" stroke="#333" stroke-width="0.18">−40</text>
<line x1="69.40" y1="622.20" x2="69.40" y2="625.00" stroke="#333" stroke-width="1.0"/>
<text x="69.40" y="635.20" font-size="6.7" text-anchor="middle" fill="#333" textLength="10.80" lengthAdjust="spacingAndGlyphs" stroke="#333" stroke-width="0.18">−20</text>
<line x1="95.50" y1="622.20" x2="95.50" y2="625.00" stroke="#333" stroke-width="1.0"/>
<text x="95.50" y="635.20" font-size="6.7" text-anchor="middle" fill="#333" textLength="3.60" lengthAdjust="spacingAndGlyphs" stroke="#333" stroke-width="0.18">0</text>
<line x1="121.60" y1="622.20" x2="121.60" y2="625.00" stroke="#333" stroke-width="1.0"/>
<text x="121.60" y="635.20" font-size="6.7" text-anchor="middle" fill="#333" textLength="7.20" lengthAdjust="spacingAndGlyphs" stroke="#333" stroke-width="0.18">20</text>
<line x1="147.70" y1="622.20" x2="147.70" y2="625.00" stroke="#333" stroke-width="1.0"/>
<text x="147.70" y="635.20" font-size="6.7" text-anchor="middle" fill="#333" textLength="7.20" lengthAdjust="spacingAndGlyphs" stroke="#333" stroke-width="0.18">40</text>
<text x="98.75" y="506.60" font-size="9.4" text-anchor="middle" textLength="24.30" lengthAdjust="spacingAndGlyphs" stroke="#222" stroke-width="0.18">TCGA</text>
<text x="81.80" y="648.60" font-size="8.8" fill="#1a1a1a" textLength="33.80" lengthAdjust="spacingAndGlyphs" stroke="#1a1a1a" stroke-width="0.38">IFNG_score</text>
<text x="18.40" y="565.00" font-size="8.8" text-anchor="middle" fill="#1a1a1a" textLength="40.00" lengthAdjust="spacingAndGlyphs" transform="rotate(-90 18.40 565.00)" stroke="#1a1a1a" stroke-width="0.38">LOG2_CCND1</text>
<text x="47.00" y="670.20" font-size="6.3" fill="#333" textLength="94.20" lengthAdjust="spacingAndGlyphs" stroke="#333" stroke-width="0.18"><tspan font-style="italic">r</tspan> = 0.372, 95% CI 0.238-0.493</text>
<text x="58.80" y="678.60" font-size="6.3" fill="#333" textLength="70.20" lengthAdjust="spacingAndGlyphs" stroke="#333" stroke-width="0.18"><tspan font-style="italic">P</tspan> value  = .000000359</text>
<rect x="0.10" y="562.30" width="7.20" height="24.70" fill="none" stroke="#444" stroke-width="0.7"/>
<line x1="0.10" y1="575.30" x2="7.30" y2="575.30" stroke="#444" stroke-width="0.7"/>
<line x1="3.70" y1="530.30" x2="3.70" y2="562.30" stroke="#444" stroke-width="0.6"/>
<line x1="3.70" y1="587.00" x2="3.70" y2="617.60" stroke="#444" stroke-width="0.6"/>
<rect x="3.20" y="517.00" width="1" height="1" fill="#b03c58"/>
<rect x="3.20" y="519.50" width="1" height="1" fill="#b03c58"/>
<rect x="3.20" y="522.00" width="1" height="1" fill="#b03c58"/>
<rect x="3.20" y="524.70" width="1" height="1" fill="#b03c58"/>
<rect x="82.20" y="653.70" width="24.80" height="6.80" fill="none" stroke="#444" stroke-width="0.7"/>
<line x1="94.30" y1="653.70" x2="94.30" y2="660.50" stroke="#444" stroke-width="0.7"/>
<line x1="51.90" y1="657.10" x2="82.20" y2="657.10" stroke="#444" stroke-width="0.6"/>
<line x1="107.00" y1="657.10" x2="140.30" y2="657.10" stroke="#444" stroke-width="0.6"/>
<rect x="42.80" y="656.60" width="1" height="1" fill="#999"/>
<rect x="153.50" y="656.60" width="1" height="1" fill="#999"/>
<rect x="250.48" y="515.12" width="1.4" height="1.4" fill="#ad4a6a" fill-opacity="0.78"/>
<rect x="262.26" y="518.72" width="1.4" height="1.4" fill="#ad4a6a" fill-opacity="0.78"/>
<rect x="262.26" y="523.05" width="1.4" height="1.4" fill="#ad4a6a" fill-opacity="0.78"/>
<rect x="293.51" y="517.52" width="1.4" height="1.4" fill="#ad4a6a" fill-opacity="0.78"/>
<rect x="284.62" y="522.33" width="1.4" height="1.4" fill="#ad4a6a" fill-opacity="0.78"/>
<rect x="281.01" y="527.62" width="1.4" height="1.4" fill="#ad4a6a" fill-opacity="0.78"/>
<rect x="262.98" y="529.54" width="1.4" height="1.4" fill="#ad4a6a" fill-opacity="0.78"/>
<rect x="260.58" y="531.94" width="1.4" height="1.4" fill="#ad4a6a" fill-opacity="0.78"/>
<rect x="263.70" y="534.35" width="1.4" height="1.4" fill="#ad4a6a" fill-opacity="0.78"/>
<rect x="268.99" y="532.42" width="1.4" height="1.4" fill="#ad4a6a" fill-opacity="0.78"/>
<rect x="277.41" y="532.42" width="1.4" height="1.4" fill="#ad4a6a" fill-opacity="0.78"/>
<rect x="252.17" y="539.88" width="1.4" height="1.4" fill="#ad4a6a" fill-opacity="0.78"/>
<rect x="270.19" y="540.36" width="1.4" height="1.4" fill="#ad4a6a" fill-opacity="0.78"/>
<rect x="275.72" y="541.56" width="1.4" height="1.4" fill="#ad4a6a" fill-opacity="0.78"/>
<rect x="273.32" y="543.24" width="1.4" height="1.4" fill="#ad4a6a" fill-opacity="0.78"/>
<rect x="262.26" y="545.17" width="1.4" height="1.4" fill="#ad4a6a" fill-opacity="0.78"/>
<rect x="260.58" y="546.37" width="1.4" height="1.4" fill="#ad4a6a" fill-opacity="0.78"/>
<rect x="247.36" y="546.37" width="1.4" height="1.4" fill="#ad4a6a" fill-opacity="0.78"/>
<rect x="268.99" y="547.57" width="1.4" height="1.4" fill="#ad4a6a" fill-opacity="0.78"/>
<rect x="271.40" y="548.77" width="1.4" height="1.4" fill="#ad4a6a" fill-opacity="0.78"/>
<rect x="282.21" y="547.57" width="1.4" height="1.4" fill="#ad4a6a" fill-opacity="0.78"/>
<rect x="293.03" y="548.05" width="1.4" height="1.4" fill="#ad4a6a" fill-opacity="0.78"/>
<rect x="296.64" y="546.37" width="1.4" height="1.4" fill="#ad4a6a" fill-opacity="0.78"/>
<rect x="262.98" y="551.17" width="1.4" height="1.4" fill="#ad4a6a" fill-opacity="0.78"/>
<rect x="276.20" y="552.38" width="1.4" height="1.4" fill="#ad4a6a" fill-opacity="0.78"/>
<rect x="279.81" y="555.98" width="1.4" height="1.4" fill="#ad4a6a" fill-opacity="0.78"/>
<rect x="284.62" y="554.78" width="1.4" height="1.4" fill="#ad4a6a" fill-opacity="0.78"/>
<rect x="290.63" y="553.58" width="1.4" height="1.4" fill="#ad4a6a" fill-opacity="0.78"/>
<rect x="289.43" y="555.98" width="1.4" height="1.4" fill="#ad4a6a" fill-opacity="0.78"/>
<rect x="272.60" y="555.98" width="1.4" height="1.4" fill="#ad4a6a" fill-opacity="0.78"/>
<rect x="270.19" y="558.39" width="1.4" height="1.4" fill="#ad4a6a" fill-opacity="0.78"/>
<rect x="243.75" y="560.79" width="1.4" height="1.4" fill="#ad4a6a" fill-opacity="0.78"/>
<rect x="255.77" y="560.79" width="1.4" height="1.4" fill="#ad4a6a" fill-opacity="0.78"/>
<rect x="258.18" y="561.99" width="1.4" height="1.4" fill="#ad4a6a" fill-opacity="0.78"/>
<rect x="261.78" y="560.79" width="1.4" height="1.4" fill="#ad4a6a" fill-opacity="0.78"/>
<rect x="266.59" y="563.19" width="1.4" height="1.4" fill="#ad4a6a" fill-opacity="0.78"/>
<rect x="271.40" y="563.19" width="1.4" height="1.4" fill="#ad4a6a" fill-opacity="0.78"/>
<rect x="281.01" y="563.19" width="1.4" height="1.4" fill="#ad4a6a" fill-opacity="0.78"/>
<rect x="308.66" y="563.19" width="1.4" height="1.4" fill="#ad4a6a" fill-opacity="0.78"/>
<rect x="313.46" y="552.38" width="1.4" height="1.4" fill="#ad4a6a" fill-opacity="0.78"/>
<rect x="236.54" y="568.72" width="1.4" height="1.4" fill="#ad4a6a" fill-opacity="0.78"/>
<rect x="242.55" y="570.41" width="1.4" height="1.4" fill="#ad4a6a" fill-opacity="0.78"/>
<rect x="249.76" y="567.28" width="1.4" height="1.4" fill="#ad4a6a" fill-opacity="0.78"/>
<rect x="254.57" y="566.32" width="1.4" height="1.4" fill="#ad4a6a" fill-opacity="0.78"/>
<rect x="258.18" y="567.28" width="1.4" height="1.4" fill="#ad4a6a" fill-opacity="0.78"/>
<rect x="262.98" y="567.28" width="1.4" height="1.4" fill="#ad4a6a" fill-opacity="0.78"/>
<rect x="265.39" y="566.32" width="1.4" height="1.4" fill="#ad4a6a" fill-opacity="0.78"/>
<rect x="268.99" y="568.00" width="1.4" height="1.4" fill="#ad4a6a" fill-opacity="0.78"/>
<rect x="275.00" y="569.20" width="1.4" height="1.4" fill="#ad4a6a" fill-opacity="0.78"/>
<rect x="281.01" y="566.80" width="1.4" height="1.4" fill="#ad4a6a" fill-opacity="0.78"/>
<rect x="294.23" y="567.28" width="1.4" height="1.4" fill="#ad4a6a" fill-opacity="0.78"/>
<rect x="302.65" y="567.28" width="1.4" height="1.4" fill="#ad4a6a" fill-opacity="0.78"/>
<rect x="315.87" y="568.00" width="1.4" height="1.4" fill="#ad4a6a" fill-opacity="0.78"/>
<rect x="320.68" y="569.20" width="1.4" height="1.4" fill="#ad4a6a" fill-opacity="0.78"/>
<rect x="226.93" y="574.49" width="1.4" height="1.4" fill="#ad4a6a" fill-opacity="0.78"/>
<rect x="240.15" y="574.01" width="1.4" height="1.4" fill="#ad4a6a" fill-opacity="0.78"/>
<rect x="247.36" y="572.81" width="1.4" height="1.4" fill="#ad4a6a" fill-opacity="0.78"/>
<rect x="252.17" y="574.01" width="1.4" height="1.4" fill="#ad4a6a" fill-opacity="0.78"/>
<rect x="255.77" y="575.21" width="1.4" height="1.4" fill="#ad4a6a" fill-opacity="0.78"/>
<rect x="260.58" y="574.01" width="1.4" height="1.4" fill="#ad4a6a" fill-opacity="0.78"/>
<rect x="268.99" y="572.81" width="1.4" height="1.4" fill="#ad4a6a" fill-opacity="0.78"/>
<rect x="275.00" y="574.49" width="1.4" height="1.4" fill="#ad4a6a" fill-opacity="0.78"/>
<rect x="285.82" y="574.01" width="1.4" height="1.4" fill="#ad4a6a" fill-opacity="0.78"/>
<rect x="293.03" y="575.21" width="1.4" height="1.4" fill="#ad4a6a" fill-opacity="0.78"/>
<rect x="237.74" y="581.22" width="1.4" height="1.4" fill="#ad4a6a" fill-opacity="0.78"/>
<rect x="249.76" y="580.74" width="1.4" height="1.4" fill="#ad4a6a" fill-opacity="0.78"/>
<rect x="253.37" y="581.70" width="1.4" height="1.4" fill="#ad4a6a" fill-opacity="0.78"/>
<rect x="258.18" y="578.82" width="1.4" height="1.4" fill="#ad4a6a" fill-opacity="0.78"/>
<rect x="260.58" y="581.22" width="1.4" height="1.4" fill="#ad4a6a" fill-opacity="0.78"/>
<rect x="261.78" y="580.74" width="1.4" height="1.4" fill="#ad4a6a" fill-opacity="0.78"/>
<rect x="264.18" y="581.70" width="1.4" height="1.4" fill="#ad4a6a" fill-opacity="0.78"/>
<rect x="266.59" y="580.02" width="1.4" height="1.4" fill="#ad4a6a" fill-opacity="0.78"/>
<rect x="271.40" y="580.74" width="1.4" height="1.4" fill="#ad4a6a" fill-opacity="0.78"/>
<rect x="281.01" y="580.74" width="1.4" height="1.4" fill="#ad4a6a" fill-opacity="0.78"/>
<rect x="290.63" y="581.70" width="1.4" height="1.4" fill="#ad4a6a" fill-opacity="0.78"/>
<rect x="300.24" y="581.22" width="1.4" height="1.4" fill="#ad4a6a" fill-opacity="0.78"/>
<rect x="235.34" y="586.03" width="1.4" height="1.4" fill="#ad4a6a" fill-opacity="0.78"/>
<rect x="240.15" y="587.23" width="1.4" height="1.4" fill="#ad4a6a" fill-opacity="0.78"/>
<rect x="244.95" y="586.03" width="1.4" height="1.4" fill="#ad4a6a" fill-opacity="0.78"/>
<rect x="250.96" y="585.55" width="1.4" height="1.4" fill="#ad4a6a" fill-opacity="0.78"/>
<rect x="256.97" y="586.03" width="1.4" height="1.4" fill="#ad4a6a" fill-opacity="0.78"/>
<rect x="260.58" y="587.23" width="1.4" height="1.4" fill="#ad4a6a" fill-opacity="0.78"/>
<rect x="262.98" y="586.03" width="1.4" height="1.4" fill="#ad4a6a" fill-opacity="0.78"/>
<rect x="270.19" y="587.23" width="1.4" height="1.4" fill="#ad4a6a" fill-opacity="0.78"/>
<rect x="273.80" y="586.51" width="1.4" height="1.4" fill="#ad4a6a" fill-opacity="0.78"/>
<rect x="278.61" y="586.03" width="1.4" height="1.4" fill="#ad4a6a" fill-opacity="0.78"/>
<rect x="219.71" y="590.36" width="1.4" height="1.4" fill="#ad4a6a" fill-opacity="0.78"/>
<rect x="236.54" y="589.64" width="1.4" height="1.4" fill="#ad4a6a" fill-opacity="0.78"/>
<rect x="242.55" y="590.36" width="1.4" height="1.4" fill="#ad4a6a" fill-opacity="0.78"/>
<rect x="247.36" y="588.92" width="1.4" height="1.4" fill="#ad4a6a" fill-opacity="0.78"/>
<rect x="253.37" y="589.64" width="1.4" height="1.4" fill="#ad4a6a" fill-opacity="0.78"/>
<rect x="259.38" y="590.36" width="1.4" height="1.4" fill="#ad4a6a" fill-opacity="0.78"/>
<rect x="262.98" y="591.32" width="1.4" height="1.4" fill="#ad4a6a" fill-opacity="0.78"/>
<rect x="268.99" y="588.43" width="1.4" height="1.4" fill="#ad4a6a" fill-opacity="0.78"/>
<rect x="275.00" y="589.64" width="1.4" height="1.4" fill="#ad4a6a" fill-opacity="0.78"/>
<rect x="283.42" y="592.04" width="1.4" height="1.4" fill="#ad4a6a" fill-opacity="0.78"/>
<rect x="241.35" y="594.44" width="1.4" height="1.4" fill="#ad4a6a" fill-opacity="0.78"/>
<rect x="247.36" y="595.17" width="1.4" height="1.4" fill="#ad4a6a" fill-opacity="0.78"/>
<rect x="253.37" y="595.65" width="1.4" height="1.4" fill="#ad4a6a" fill-opacity="0.78"/>
<rect x="258.18" y="596.85" width="1.4" height="1.4" fill="#ad4a6a" fill-opacity="0.78"/>
<rect x="259.38" y="595.17" width="1.4" height="1.4" fill="#ad4a6a" fill-opacity="0.78"/>
<rect x="266.59" y="593.72" width="1.4" height="1.4" fill="#ad4a6a" fill-opacity="0.78"/>
<rect x="270.19" y="595.65" width="1.4" height="1.4" fill="#ad4a6a" fill-opacity="0.78"/>
<rect x="294.23" y="594.44" width="1.4" height="1.4" fill="#ad4a6a" fill-opacity="0.78"/>
<rect x="258.18" y="598.05" width="1.4" height="1.4" fill="#ad4a6a" fill-opacity="0.78"/>
<rect x="259.38" y="597.57" width="1.4" height="1.4" fill="#ad4a6a" fill-opacity="0.78"/>
<rect x="260.58" y="607.18" width="1.4" height="1.4" fill="#ad4a6a" fill-opacity="0.78"/>
<rect x="261.78" y="607.67" width="1.4" height="1.4" fill="#ad4a6a" fill-opacity="0.78"/>
<rect x="254.57" y="616.08" width="1.4" height="1.4" fill="#ad4a6a" fill-opacity="0.78"/>
<rect x="264.18" y="616.80" width="1.4" height="1.4" fill="#ad4a6a" fill-opacity="0.78"/>
<rect x="276.20" y="611.99" width="1.4" height="1.4" fill="#ad4a6a" fill-opacity="0.78"/>
<rect x="328.61" y="595.65" width="1.4" height="1.4" fill="#ad4a6a" fill-opacity="0.78"/>
<rect x="259.38" y="576.42" width="1.4" height="1.4" fill="#ad4a6a" fill-opacity="0.78"/>
<rect x="262.98" y="577.62" width="1.4" height="1.4" fill="#ad4a6a" fill-opacity="0.78"/>
<rect x="255.77" y="582.42" width="1.4" height="1.4" fill="#ad4a6a" fill-opacity="0.78"/>
<rect x="265.39" y="583.63" width="1.4" height="1.4" fill="#ad4a6a" fill-opacity="0.78"/>
<rect x="252.17" y="577.62" width="1.4" height="1.4" fill="#ad4a6a" fill-opacity="0.78"/>
<rect x="267.79" y="576.42" width="1.4" height="1.4" fill="#ad4a6a" fill-opacity="0.78"/>
<rect x="260.27" y="599.04" width="1.4" height="1.4" fill="#ad4a6a" fill-opacity="0.78"/>
<rect x="251.90" y="556.15" width="1.4" height="1.4" fill="#ad4a6a" fill-opacity="0.78"/>
<rect x="264.71" y="587.95" width="1.4" height="1.4" fill="#ad4a6a" fill-opacity="0.78"/>
<rect x="266.46" y="586.71" width="1.4" height="1.4" fill="#ad4a6a" fill-opacity="0.78"/>
<rect x="260.66" y="572.47" width="1.4" height="1.4" fill="#ad4a6a" fill-opacity="0.78"/>
<rect x="253.14" y="577.54" width="1.4" height="1.4" fill="#ad4a6a" fill-opacity="0.78"/>
<rect x="257.77" y="592.58" width="1.4" height="1.4" fill="#ad4a6a" fill-opacity="0.78"/>
<rect x="269.90" y="564.13" width="1.4" height="1.4" fill="#ad4a6a" fill-opacity="0.78"/>
<rect x="270.90" y="580.25" width="1.4" height="1.4" fill="#ad4a6a" fill-opacity="0.78"/>
<rect x="275.99" y="600.27" width="1.4" height="1.4" fill="#ad4a6a" fill-opacity="0.78"/>
<rect x="269.27" y="557.39" width="1.4" height="1.4" fill="#ad4a6a" fill-opacity="0.78"/>
<rect x="270.45" y="560.24" width="1.4" height="1.4" fill="#ad4a6a" fill-opacity="0.78"/>
<rect x="281.55" y="572.07" width="1.4" height="1.4" fill="#ad4a6a" fill-opacity="0.78"/>
<rect x="260.32" y="604.60" width="1.4" height="1.4" fill="#ad4a6a" fill-opacity="0.78"/>
<rect x="241.24" y="581.11" width="1.4" height="1.4" fill="#ad4a6a" fill-opacity="0.78"/>
<rect x="249.60" y="573.90" width="1.4" height="1.4" fill="#ad4a6a" fill-opacity="0.78"/>
<rect x="252.94" y="589.68" width="1.4" height="1.4" fill="#ad4a6a" fill-opacity="0.78"/>
<rect x="258.96" y="585.28" width="1.4" height="1.4" fill="#ad4a6a" fill-opacity="0.78"/>
<rect x="270.40" y="558.23" width="1.4" height="1.4" fill="#ad4a6a" fill-opacity="0.78"/>
<rect x="279.61" y="577.51" width="1.4" height="1.4" fill="#ad4a6a" fill-opacity="0.78"/>
<rect x="242.51" y="572.08" width="1.4" height="1.4" fill="#ad4a6a" fill-opacity="0.78"/>
<rect x="273.24" y="593.94" width="1.4" height="1.4" fill="#ad4a6a" fill-opacity="0.78"/>
<rect x="254.29" y="582.12" width="1.4" height="1.4" fill="#ad4a6a" fill-opacity="0.78"/>
<rect x="265.58" y="594.42" width="1.4" height="1.4" fill="#ad4a6a" fill-opacity="0.78"/>
<rect x="261.02" y="593.72" width="1.4" height="1.4" fill="#ad4a6a" fill-opacity="0.78"/>
<rect x="251.81" y="571.27" width="1.4" height="1.4" fill="#ad4a6a" fill-opacity="0.78"/>
<rect x="270.79" y="590.36" width="1.4" height="1.4" fill="#ad4a6a" fill-opacity="0.78"/>
<rect x="262.10" y="588.79" width="1.4" height="1.4" fill="#ad4a6a" fill-opacity="0.78"/>
<rect x="265.22" y="590.97" width="1.4" height="1.4" fill="#ad4a6a" fill-opacity="0.78"/>
<rect x="276.90" y="587.68" width="1.4" height="1.4" fill="#ad4a6a" fill-opacity="0.78"/>
<rect x="272.72" y="575.59" width="1.4" height="1.4" fill="#ad4a6a" fill-opacity="0.78"/>
<rect x="255.88" y="549.65" width="1.4" height="1.4" fill="#ad4a6a" fill-opacity="0.78"/>
<rect x="267.69" y="581.23" width="1.4" height="1.4" fill="#ad4a6a" fill-opacity="0.78"/>
<rect x="269.21" y="556.02" width="1.4" height="1.4" fill="#ad4a6a" fill-opacity="0.78"/>
<rect x="256.75" y="573.42" width="1.4" height="1.4" fill="#ad4a6a" fill-opacity="0.78"/>
<rect x="240.62" y="592.84" width="1.4" height="1.4" fill="#ad4a6a" fill-opacity="0.78"/>
<rect x="277.64" y="563.93" width="1.4" height="1.4" fill="#ad4a6a" fill-opacity="0.78"/>
<rect x="268.14" y="603.69" width="1.4" height="1.4" fill="#ad4a6a" fill-opacity="0.78"/>
<rect x="247.85" y="593.92" width="1.4" height="1.4" fill="#ad4a6a" fill-opacity="0.78"/>
<rect x="282.14" y="605.57" width="1.4" height="1.4" fill="#ad4a6a" fill-opacity="0.78"/>
<rect x="246.00" y="566.69" width="1.4" height="1.4" fill="#ad4a6a" fill-opacity="0.78"/>
<rect x="265.26" y="596.80" width="1.4" height="1.4" fill="#ad4a6a" fill-opacity="0.78"/>
<rect x="247.28" y="570.84" width="1.4" height="1.4" fill="#ad4a6a" fill-opacity="0.78"/>
<rect x="249.02" y="595.51" width="1.4" height="1.4" fill="#ad4a6a" fill-opacity="0.78"/>
<rect x="255.85" y="588.43" width="1.4" height="1.4" fill="#ad4a6a" fill-opacity="0.78"/>
<rect x="270.62" y="596.25" width="1.4" height="1.4" fill="#ad4a6a" fill-opacity="0.78"/>
<rect x="267.83" y="585.33" width="1.4" height="1.4" fill="#ad4a6a" fill-opacity="0.78"/>
<rect x="276.93" y="587.16" width="1.4" height="1.4" fill="#ad4a6a" fill-opacity="0.78"/>
<rect x="247.20" y="573.68" width="1.4" height="1.4" fill="#ad4a6a" fill-opacity="0.78"/>
<rect x="273.83" y="582.68" width="1.4" height="1.4" fill="#ad4a6a" fill-opacity="0.78"/>
<line x1="218.40" y1="586.00" x2="329.90" y2="552.50" stroke="#b3203e" stroke-width="1.3"/>
<line x1="213.30" y1="512.50" x2="213.30" y2="622.80" stroke="#1a1a1a" stroke-width="1.25"/>
<line x1="212.70" y1="622.20" x2="334.00" y2="622.20" stroke="#1a1a1a" stroke-width="1.25"/>
<line x1="209.90" y1="522.50" x2="213.30" y2="522.50" stroke="#333" stroke-width="1.0"/>
<text x="207.10" y="524.60" font-size="6.6" text-anchor="end" fill="#333" textLength="7.20" lengthAdjust="spacingAndGlyphs" stroke="#333" stroke-width="0.18">10</text>
<line x1="209.90" y1="542.92" x2="213.30" y2="542.92" stroke="#333" stroke-width="1.0"/>
<text x="207.10" y="545.02" font-size="6.6" text-anchor="end" fill="#333" textLength="3.60" lengthAdjust="spacingAndGlyphs" stroke="#333" stroke-width="0.18">8</text>
<line x1="209.90" y1="563.34" x2="213.30" y2="563.34" stroke="#333" stroke-width="1.0"/>
<text x="207.10" y="565.44" font-size="6.6" text-anchor="end" fill="#333" textLength="3.60" lengthAdjust="spacingAndGlyphs" stroke="#333" stroke-width="0.18">6</text>
<line x1="209.90" y1="583.76" x2="213.30" y2="583.76" stroke="#333" stroke-width="1.0"/>
<text x="207.10" y="585.86" font-size="6.6" text-anchor="end" fill="#333" textLength="3.60" lengthAdjust="spacingAndGlyphs" stroke="#333" stroke-width="0.18">4</text>
<line x1="209.90" y1="604.18" x2="213.30" y2="604.18" stroke="#333" stroke-width="1.0"/>
<text x="207.10" y="606.28" font-size="6.6" text-anchor="end" fill="#333" textLength="3.60" lengthAdjust="spacingAndGlyphs" stroke="#333" stroke-width="0.18">2</text>
<line x1="231.90" y1="622.20" x2="231.90" y2="625.00" stroke="#333" stroke-width="1.0"/>
<text x="231.90" y="635.20" font-size="6.7" text-anchor="middle" fill="#333" textLength="7.20" lengthAdjust="spacingAndGlyphs" stroke="#333" stroke-width="0.18">10</text>
<line x1="256.30" y1="622.20" x2="256.30" y2="625.00" stroke="#333" stroke-width="1.0"/>
<text x="256.30" y="635.20" font-size="6.7" text-anchor="middle" fill="#333" textLength="7.20" lengthAdjust="spacingAndGlyphs" stroke="#333" stroke-width="0.18">11</text>
<line x1="280.70" y1="622.20" x2="280.70" y2="625.00" stroke="#333" stroke-width="1.0"/>
<text x="280.70" y="635.20" font-size="6.7" text-anchor="middle" fill="#333" textLength="7.20" lengthAdjust="spacingAndGlyphs" stroke="#333" stroke-width="0.18">12</text>
<line x1="305.10" y1="622.20" x2="305.10" y2="625.00" stroke="#333" stroke-width="1.0"/>
<text x="305.10" y="635.20" font-size="6.7" text-anchor="middle" fill="#333" textLength="7.20" lengthAdjust="spacingAndGlyphs" stroke="#333" stroke-width="0.18">13</text>
<line x1="329.50" y1="622.20" x2="329.50" y2="625.00" stroke="#333" stroke-width="1.0"/>
<text x="329.50" y="635.20" font-size="6.7" text-anchor="middle" fill="#333" textLength="7.20" lengthAdjust="spacingAndGlyphs" stroke="#333" stroke-width="0.18">14</text>
<text x="273.50" y="506.60" font-size="9.4" text-anchor="middle" textLength="25.00" lengthAdjust="spacingAndGlyphs" stroke="#222" stroke-width="0.18">TCGA</text>
<text x="254.60" y="648.50" font-size="8.8" fill="#1a1a1a" textLength="37.10" lengthAdjust="spacingAndGlyphs" stroke="#1a1a1a" stroke-width="0.38">LOG2_STAT1</text>
<text x="193.60" y="564.00" font-size="8.8" text-anchor="middle" fill="#1a1a1a" textLength="40.70" lengthAdjust="spacingAndGlyphs" transform="rotate(-90 193.60 564.00)" stroke="#1a1a1a" stroke-width="0.38">LOG2_CCND1</text>
<text x="233.20" y="670.20" font-size="6.3" fill="#333" textLength="94.50" lengthAdjust="spacingAndGlyphs" stroke="#333" stroke-width="0.18"><tspan font-style="italic">r</tspan> = 0.261, 95% CI 0.117-0.394</text>
<text x="252.50" y="678.60" font-size="6.3" fill="#333" textLength="56.90" lengthAdjust="spacingAndGlyphs" stroke="#333" stroke-width="0.18"><tspan font-style="italic">P</tspan> value =  .000472</text>
<rect x="174.70" y="560.00" width="7.00" height="25.20" fill="none" stroke="#444" stroke-width="0.7"/>
<line x1="174.70" y1="574.00" x2="181.70" y2="574.00" stroke="#444" stroke-width="0.7"/>
<line x1="178.20" y1="527.20" x2="178.20" y2="560.00" stroke="#444" stroke-width="0.6"/>
<line x1="178.20" y1="585.20" x2="178.20" y2="616.70" stroke="#444" stroke-width="0.6"/>
<rect x="177.70" y="515.00" width="1" height="1" fill="#b03c58"/>
<rect x="177.70" y="518.00" width="1" height="1" fill="#b03c58"/>
<rect x="177.70" y="520.50" width="1" height="1" fill="#b03c58"/>
<rect x="177.70" y="523.00" width="1" height="1" fill="#b03c58"/>
<rect x="252.70" y="653.00" width="20.70" height="7.40" fill="none" stroke="#444" stroke-width="0.7"/>
<line x1="263.20" y1="653.00" x2="263.20" y2="660.40" stroke="#444" stroke-width="0.7"/>
<line x1="227.00" y1="656.70" x2="252.70" y2="656.70" stroke="#444" stroke-width="0.6"/>
<line x1="273.40" y1="656.70" x2="300.80" y2="656.70" stroke="#444" stroke-width="0.6"/>
<rect x="217.30" y="656.20" width="1" height="1" fill="#b03c58"/>
<rect x="219.10" y="656.20" width="1" height="1" fill="#b03c58"/>
<rect x="221.10" y="656.20" width="1" height="1" fill="#b03c58"/>
<rect x="308.40" y="656.20" width="1" height="1" fill="#b03c58"/>
<rect x="312.50" y="656.20" width="1" height="1" fill="#b03c58"/>
<rect x="317.00" y="656.20" width="1" height="1" fill="#b03c58"/>
<rect x="321.50" y="656.20" width="1" height="1" fill="#b03c58"/>
<rect x="329.70" y="656.20" width="1" height="1" fill="#b03c58"/>
<rect x="432.96" y="515.12" width="1.4" height="1.4" fill="#ad4a6a" fill-opacity="0.78"/>
<rect x="432.48" y="522.33" width="1.4" height="1.4" fill="#ad4a6a" fill-opacity="0.78"/>
<rect x="459.41" y="518.24" width="1.4" height="1.4" fill="#ad4a6a" fill-opacity="0.78"/>
<rect x="461.81" y="522.33" width="1.4" height="1.4" fill="#ad4a6a" fill-opacity="0.78"/>
<rect x="509.89" y="517.52" width="1.4" height="1.4" fill="#ad4a6a" fill-opacity="0.78"/>
<rect x="511.09" y="531.94" width="1.4" height="1.4" fill="#ad4a6a" fill-opacity="0.78"/>
<rect x="440.66" y="528.34" width="1.4" height="1.4" fill="#ad4a6a" fill-opacity="0.78"/>
<rect x="456.28" y="527.14" width="1.4" height="1.4" fill="#ad4a6a" fill-opacity="0.78"/>
<rect x="424.07" y="533.63" width="1.4" height="1.4" fill="#ad4a6a" fill-opacity="0.78"/>
<rect x="434.65" y="531.94" width="1.4" height="1.4" fill="#ad4a6a" fill-opacity="0.78"/>
<rect x="435.37" y="540.36" width="1.4" height="1.4" fill="#ad4a6a" fill-opacity="0.78"/>
<rect x="464.21" y="530.74" width="1.4" height="1.4" fill="#ad4a6a" fill-opacity="0.78"/>
<rect x="476.23" y="531.94" width="1.4" height="1.4" fill="#ad4a6a" fill-opacity="0.78"/>
<rect x="455.80" y="539.16" width="1.4" height="1.4" fill="#ad4a6a" fill-opacity="0.78"/>
<rect x="458.20" y="542.76" width="1.4" height="1.4" fill="#ad4a6a" fill-opacity="0.78"/>
<rect x="457.00" y="546.37" width="1.4" height="1.4" fill="#ad4a6a" fill-opacity="0.78"/>
<rect x="459.41" y="546.37" width="1.4" height="1.4" fill="#ad4a6a" fill-opacity="0.78"/>
<rect x="461.81" y="547.09" width="1.4" height="1.4" fill="#ad4a6a" fill-opacity="0.78"/>
<rect x="464.21" y="547.57" width="1.4" height="1.4" fill="#ad4a6a" fill-opacity="0.78"/>
<rect x="464.93" y="541.56" width="1.4" height="1.4" fill="#ad4a6a" fill-opacity="0.78"/>
<rect x="478.64" y="542.76" width="1.4" height="1.4" fill="#ad4a6a" fill-opacity="0.78"/>
<rect x="448.59" y="545.17" width="1.4" height="1.4" fill="#ad4a6a" fill-opacity="0.78"/>
<rect x="458.20" y="553.58" width="1.4" height="1.4" fill="#ad4a6a" fill-opacity="0.78"/>
<rect x="459.41" y="555.98" width="1.4" height="1.4" fill="#ad4a6a" fill-opacity="0.78"/>
<rect x="467.82" y="552.38" width="1.4" height="1.4" fill="#ad4a6a" fill-opacity="0.78"/>
<rect x="476.23" y="554.78" width="1.4" height="1.4" fill="#ad4a6a" fill-opacity="0.78"/>
<rect x="483.44" y="552.38" width="1.4" height="1.4" fill="#ad4a6a" fill-opacity="0.78"/>
<rect x="494.26" y="552.38" width="1.4" height="1.4" fill="#ad4a6a" fill-opacity="0.78"/>
<rect x="485.85" y="555.98" width="1.4" height="1.4" fill="#ad4a6a" fill-opacity="0.78"/>
<rect x="417.34" y="561.51" width="1.4" height="1.4" fill="#ad4a6a" fill-opacity="0.78"/>
<rect x="417.34" y="564.88" width="1.4" height="1.4" fill="#ad4a6a" fill-opacity="0.78"/>
<rect x="441.38" y="559.59" width="1.4" height="1.4" fill="#ad4a6a" fill-opacity="0.78"/>
<rect x="443.78" y="560.79" width="1.4" height="1.4" fill="#ad4a6a" fill-opacity="0.78"/>
<rect x="444.98" y="563.19" width="1.4" height="1.4" fill="#ad4a6a" fill-opacity="0.78"/>
<rect x="437.77" y="563.19" width="1.4" height="1.4" fill="#ad4a6a" fill-opacity="0.78"/>
<rect x="428.16" y="565.60" width="1.4" height="1.4" fill="#ad4a6a" fill-opacity="0.78"/>
<rect x="450.99" y="566.80" width="1.4" height="1.4" fill="#ad4a6a" fill-opacity="0.78"/>
<rect x="455.80" y="564.40" width="1.4" height="1.4" fill="#ad4a6a" fill-opacity="0.78"/>
<rect x="463.01" y="563.19" width="1.4" height="1.4" fill="#ad4a6a" fill-opacity="0.78"/>
<rect x="472.63" y="564.40" width="1.4" height="1.4" fill="#ad4a6a" fill-opacity="0.78"/>
<rect x="477.43" y="565.60" width="1.4" height="1.4" fill="#ad4a6a" fill-opacity="0.78"/>
<rect x="483.44" y="566.32" width="1.4" height="1.4" fill="#ad4a6a" fill-opacity="0.78"/>
<rect x="493.06" y="565.60" width="1.4" height="1.4" fill="#ad4a6a" fill-opacity="0.78"/>
<rect x="399.79" y="565.60" width="1.4" height="1.4" fill="#ad4a6a" fill-opacity="0.78"/>
<rect x="400.51" y="588.43" width="1.4" height="1.4" fill="#ad4a6a" fill-opacity="0.78"/>
<rect x="430.56" y="572.81" width="1.4" height="1.4" fill="#ad4a6a" fill-opacity="0.78"/>
<rect x="435.37" y="571.61" width="1.4" height="1.4" fill="#ad4a6a" fill-opacity="0.78"/>
<rect x="438.97" y="572.81" width="1.4" height="1.4" fill="#ad4a6a" fill-opacity="0.78"/>
<rect x="443.78" y="574.01" width="1.4" height="1.4" fill="#ad4a6a" fill-opacity="0.78"/>
<rect x="447.39" y="571.61" width="1.4" height="1.4" fill="#ad4a6a" fill-opacity="0.78"/>
<rect x="453.40" y="572.81" width="1.4" height="1.4" fill="#ad4a6a" fill-opacity="0.78"/>
<rect x="457.00" y="569.20" width="1.4" height="1.4" fill="#ad4a6a" fill-opacity="0.78"/>
<rect x="460.61" y="570.41" width="1.4" height="1.4" fill="#ad4a6a" fill-opacity="0.78"/>
<rect x="465.42" y="572.81" width="1.4" height="1.4" fill="#ad4a6a" fill-opacity="0.78"/>
<rect x="471.43" y="574.01" width="1.4" height="1.4" fill="#ad4a6a" fill-opacity="0.78"/>
<rect x="476.23" y="569.20" width="1.4" height="1.4" fill="#ad4a6a" fill-opacity="0.78"/>
<rect x="482.24" y="572.81" width="1.4" height="1.4" fill="#ad4a6a" fill-opacity="0.78"/>
<rect x="491.86" y="569.68" width="1.4" height="1.4" fill="#ad4a6a" fill-opacity="0.78"/>
<rect x="422.15" y="577.62" width="1.4" height="1.4" fill="#ad4a6a" fill-opacity="0.78"/>
<rect x="431.76" y="576.42" width="1.4" height="1.4" fill="#ad4a6a" fill-opacity="0.78"/>
<rect x="440.18" y="578.82" width="1.4" height="1.4" fill="#ad4a6a" fill-opacity="0.78"/>
<rect x="444.98" y="580.74" width="1.4" height="1.4" fill="#ad4a6a" fill-opacity="0.78"/>
<rect x="447.39" y="581.70" width="1.4" height="1.4" fill="#ad4a6a" fill-opacity="0.78"/>
<rect x="452.19" y="581.22" width="1.4" height="1.4" fill="#ad4a6a" fill-opacity="0.78"/>
<rect x="455.80" y="580.74" width="1.4" height="1.4" fill="#ad4a6a" fill-opacity="0.78"/>
<rect x="460.61" y="578.82" width="1.4" height="1.4" fill="#ad4a6a" fill-opacity="0.78"/>
<rect x="465.42" y="577.62" width="1.4" height="1.4" fill="#ad4a6a" fill-opacity="0.78"/>
<rect x="469.02" y="579.30" width="1.4" height="1.4" fill="#ad4a6a" fill-opacity="0.78"/>
<rect x="472.63" y="581.70" width="1.4" height="1.4" fill="#ad4a6a" fill-opacity="0.78"/>
<rect x="476.23" y="583.15" width="1.4" height="1.4" fill="#ad4a6a" fill-opacity="0.78"/>
<rect x="482.24" y="581.22" width="1.4" height="1.4" fill="#ad4a6a" fill-opacity="0.78"/>
<rect x="424.55" y="587.23" width="1.4" height="1.4" fill="#ad4a6a" fill-opacity="0.78"/>
<rect x="429.36" y="588.43" width="1.4" height="1.4" fill="#ad4a6a" fill-opacity="0.78"/>
<rect x="436.57" y="587.23" width="1.4" height="1.4" fill="#ad4a6a" fill-opacity="0.78"/>
<rect x="441.38" y="588.92" width="1.4" height="1.4" fill="#ad4a6a" fill-opacity="0.78"/>
<rect x="448.59" y="588.43" width="1.4" height="1.4" fill="#ad4a6a" fill-opacity="0.78"/>
<rect x="453.40" y="587.95" width="1.4" height="1.4" fill="#ad4a6a" fill-opacity="0.78"/>
<rect x="458.20" y="587.23" width="1.4" height="1.4" fill="#ad4a6a" fill-opacity="0.78"/>
<rect x="464.21" y="586.03" width="1.4" height="1.4" fill="#ad4a6a" fill-opacity="0.78"/>
<rect x="470.22" y="585.55" width="1.4" height="1.4" fill="#ad4a6a" fill-opacity="0.78"/>
<rect x="489.45" y="586.03" width="1.4" height="1.4" fill="#ad4a6a" fill-opacity="0.78"/>
<rect x="426.95" y="591.32" width="1.4" height="1.4" fill="#ad4a6a" fill-opacity="0.78"/>
<rect x="436.57" y="592.04" width="1.4" height="1.4" fill="#ad4a6a" fill-opacity="0.78"/>
<rect x="438.97" y="593.24" width="1.4" height="1.4" fill="#ad4a6a" fill-opacity="0.78"/>
<rect x="443.78" y="593.72" width="1.4" height="1.4" fill="#ad4a6a" fill-opacity="0.78"/>
<rect x="448.59" y="590.84" width="1.4" height="1.4" fill="#ad4a6a" fill-opacity="0.78"/>
<rect x="452.19" y="594.44" width="1.4" height="1.4" fill="#ad4a6a" fill-opacity="0.78"/>
<rect x="457.00" y="592.04" width="1.4" height="1.4" fill="#ad4a6a" fill-opacity="0.78"/>
<rect x="463.01" y="592.76" width="1.4" height="1.4" fill="#ad4a6a" fill-opacity="0.78"/>
<rect x="485.85" y="595.65" width="1.4" height="1.4" fill="#ad4a6a" fill-opacity="0.78"/>
<rect x="441.38" y="597.57" width="1.4" height="1.4" fill="#ad4a6a" fill-opacity="0.78"/>
<rect x="446.18" y="598.05" width="1.4" height="1.4" fill="#ad4a6a" fill-opacity="0.78"/>
<rect x="465.42" y="595.65" width="1.4" height="1.4" fill="#ad4a6a" fill-opacity="0.78"/>
<rect x="466.62" y="596.85" width="1.4" height="1.4" fill="#ad4a6a" fill-opacity="0.78"/>
<rect x="458.20" y="606.46" width="1.4" height="1.4" fill="#ad4a6a" fill-opacity="0.78"/>
<rect x="414.93" y="607.67" width="1.4" height="1.4" fill="#ad4a6a" fill-opacity="0.78"/>
<rect x="420.94" y="611.99" width="1.4" height="1.4" fill="#ad4a6a" fill-opacity="0.78"/>
<rect x="449.79" y="616.08" width="1.4" height="1.4" fill="#ad4a6a" fill-opacity="0.78"/>
<rect x="450.99" y="617.28" width="1.4" height="1.4" fill="#ad4a6a" fill-opacity="0.78"/>
<rect x="454.60" y="576.42" width="1.4" height="1.4" fill="#ad4a6a" fill-opacity="0.78"/>
<rect x="449.79" y="583.63" width="1.4" height="1.4" fill="#ad4a6a" fill-opacity="0.78"/>
<rect x="461.81" y="583.63" width="1.4" height="1.4" fill="#ad4a6a" fill-opacity="0.78"/>
<rect x="442.58" y="583.63" width="1.4" height="1.4" fill="#ad4a6a" fill-opacity="0.78"/>
<rect x="476.37" y="584.89" width="1.4" height="1.4" fill="#ad4a6a" fill-opacity="0.78"/>
<rect x="440.11" y="547.10" width="1.4" height="1.4" fill="#ad4a6a" fill-opacity="0.78"/>
<rect x="457.88" y="582.20" width="1.4" height="1.4" fill="#ad4a6a" fill-opacity="0.78"/>
<rect x="457.25" y="553.34" width="1.4" height="1.4" fill="#ad4a6a" fill-opacity="0.78"/>
<rect x="452.35" y="590.96" width="1.4" height="1.4" fill="#ad4a6a" fill-opacity="0.78"/>
<rect x="439.97" y="585.93" width="1.4" height="1.4" fill="#ad4a6a" fill-opacity="0.78"/>
<rect x="466.62" y="578.56" width="1.4" height="1.4" fill="#ad4a6a" fill-opacity="0.78"/>
<rect x="470.03" y="565.20" width="1.4" height="1.4" fill="#ad4a6a" fill-opacity="0.78"/>
<rect x="457.65" y="595.73" width="1.4" height="1.4" fill="#ad4a6a" fill-opacity="0.78"/>
<rect x="453.90" y="566.85" width="1.4" height="1.4" fill="#ad4a6a" fill-opacity="0.78"/>
<rect x="439.69" y="566.21" width="1.4" height="1.4" fill="#ad4a6a" fill-opacity="0.78"/>
<rect x="469.66" y="588.55" width="1.4" height="1.4" fill="#ad4a6a" fill-opacity="0.78"/>
<rect x="468.39" y="580.53" width="1.4" height="1.4" fill="#ad4a6a" fill-opacity="0.78"/>
<rect x="467.50" y="576.69" width="1.4" height="1.4" fill="#ad4a6a" fill-opacity="0.78"/>
<rect x="473.40" y="570.48" width="1.4" height="1.4" fill="#ad4a6a" fill-opacity="0.78"/>
<rect x="474.32" y="571.46" width="1.4" height="1.4" fill="#ad4a6a" fill-opacity="0.78"/>
<rect x="437.12" y="555.80" width="1.4" height="1.4" fill="#ad4a6a" fill-opacity="0.78"/>
<rect x="456.67" y="566.47" width="1.4" height="1.4" fill="#ad4a6a" fill-opacity="0.78"/>
<rect x="442.49" y="562.52" width="1.4" height="1.4" fill="#ad4a6a" fill-opacity="0.78"/>
<rect x="461.92" y="577.56" width="1.4" height="1.4" fill="#ad4a6a" fill-opacity="0.78"/>
<rect x="471.17" y="561.25" width="1.4" height="1.4" fill="#ad4a6a" fill-opacity="0.78"/>
<rect x="464.61" y="585.69" width="1.4" height="1.4" fill="#ad4a6a" fill-opacity="0.78"/>
<rect x="464.27" y="595.10" width="1.4" height="1.4" fill="#ad4a6a" fill-opacity="0.78"/>
<rect x="452.79" y="572.28" width="1.4" height="1.4" fill="#ad4a6a" fill-opacity="0.78"/>
<rect x="461.82" y="567.18" width="1.4" height="1.4" fill="#ad4a6a" fill-opacity="0.78"/>
<rect x="458.66" y="575.34" width="1.4" height="1.4" fill="#ad4a6a" fill-opacity="0.78"/>
<rect x="458.88" y="565.92" width="1.4" height="1.4" fill="#ad4a6a" fill-opacity="0.78"/>
<rect x="453.20" y="571.37" width="1.4" height="1.4" fill="#ad4a6a" fill-opacity="0.78"/>
<rect x="438.17" y="574.72" width="1.4" height="1.4" fill="#ad4a6a" fill-opacity="0.78"/>
<rect x="444.24" y="569.19" width="1.4" height="1.4" fill="#ad4a6a" fill-opacity="0.78"/>
<rect x="444.36" y="573.62" width="1.4" height="1.4" fill="#ad4a6a" fill-opacity="0.78"/>
<rect x="454.14" y="569.02" width="1.4" height="1.4" fill="#ad4a6a" fill-opacity="0.78"/>
<rect x="449.15" y="573.82" width="1.4" height="1.4" fill="#ad4a6a" fill-opacity="0.78"/>
<rect x="481.27" y="549.29" width="1.4" height="1.4" fill="#ad4a6a" fill-opacity="0.78"/>
<rect x="466.42" y="575.23" width="1.4" height="1.4" fill="#ad4a6a" fill-opacity="0.78"/>
<rect x="454.05" y="556.09" width="1.4" height="1.4" fill="#ad4a6a" fill-opacity="0.78"/>
<rect x="481.02" y="574.73" width="1.4" height="1.4" fill="#ad4a6a" fill-opacity="0.78"/>
<rect x="473.08" y="567.60" width="1.4" height="1.4" fill="#ad4a6a" fill-opacity="0.78"/>
<rect x="448.85" y="586.11" width="1.4" height="1.4" fill="#ad4a6a" fill-opacity="0.78"/>
<rect x="469.46" y="568.51" width="1.4" height="1.4" fill="#ad4a6a" fill-opacity="0.78"/>
<rect x="456.38" y="580.26" width="1.4" height="1.4" fill="#ad4a6a" fill-opacity="0.78"/>
<rect x="448.40" y="561.73" width="1.4" height="1.4" fill="#ad4a6a" fill-opacity="0.78"/>
<rect x="458.77" y="585.17" width="1.4" height="1.4" fill="#ad4a6a" fill-opacity="0.78"/>
<rect x="471.13" y="574.74" width="1.4" height="1.4" fill="#ad4a6a" fill-opacity="0.78"/>
<rect x="477.79" y="570.45" width="1.4" height="1.4" fill="#ad4a6a" fill-opacity="0.78"/>
<rect x="452.62" y="602.16" width="1.4" height="1.4" fill="#ad4a6a" fill-opacity="0.78"/>
<rect x="452.60" y="579.99" width="1.4" height="1.4" fill="#ad4a6a" fill-opacity="0.78"/>
<rect x="466.98" y="573.90" width="1.4" height="1.4" fill="#ad4a6a" fill-opacity="0.78"/>
<rect x="462.49" y="581.22" width="1.4" height="1.4" fill="#ad4a6a" fill-opacity="0.78"/>
<rect x="466.96" y="565.00" width="1.4" height="1.4" fill="#ad4a6a" fill-opacity="0.78"/>
<line x1="400.60" y1="586.00" x2="512.00" y2="557.00" stroke="#b3203e" stroke-width="1.3"/>
<line x1="395.70" y1="512.50" x2="395.70" y2="622.80" stroke="#1a1a1a" stroke-width="1.25"/>
<line x1="395.10" y1="622.20" x2="515.20" y2="622.20" stroke="#1a1a1a" stroke-width="1.25"/>
<line x1="392.30" y1="522.50" x2="395.70" y2="522.50" stroke="#333" stroke-width="1.0"/>
<text x="389.50" y="524.60" font-size="6.6" text-anchor="end" fill="#333" textLength="7.20" lengthAdjust="spacingAndGlyphs" stroke="#333" stroke-width="0.18">10</text>
<line x1="392.30" y1="542.92" x2="395.70" y2="542.92" stroke="#333" stroke-width="1.0"/>
<text x="389.50" y="545.02" font-size="6.6" text-anchor="end" fill="#333" textLength="3.60" lengthAdjust="spacingAndGlyphs" stroke="#333" stroke-width="0.18">8</text>
<line x1="392.30" y1="563.34" x2="395.70" y2="563.34" stroke="#333" stroke-width="1.0"/>
<text x="389.50" y="565.44" font-size="6.6" text-anchor="end" fill="#333" textLength="3.60" lengthAdjust="spacingAndGlyphs" stroke="#333" stroke-width="0.18">6</text>
<line x1="392.30" y1="583.76" x2="395.70" y2="583.76" stroke="#333" stroke-width="1.0"/>
<text x="389.50" y="585.86" font-size="6.6" text-anchor="end" fill="#333" textLength="3.60" lengthAdjust="spacingAndGlyphs" stroke="#333" stroke-width="0.18">4</text>
<line x1="392.30" y1="604.18" x2="395.70" y2="604.18" stroke="#333" stroke-width="1.0"/>
<text x="389.50" y="606.28" font-size="6.6" text-anchor="end" fill="#333" textLength="3.60" lengthAdjust="spacingAndGlyphs" stroke="#333" stroke-width="0.18">2</text>
<line x1="397.70" y1="622.20" x2="397.70" y2="625.00" stroke="#333" stroke-width="1.0"/>
<text x="397.70" y="635.20" font-size="6.7" text-anchor="middle" fill="#333" textLength="7.20" lengthAdjust="spacingAndGlyphs" stroke="#333" stroke-width="0.18">−2</text>
<line x1="421.00" y1="622.20" x2="421.00" y2="625.00" stroke="#333" stroke-width="1.0"/>
<text x="421.00" y="635.20" font-size="6.7" text-anchor="middle" fill="#333" textLength="3.60" lengthAdjust="spacingAndGlyphs" stroke="#333" stroke-width="0.18">0</text>
<line x1="444.30" y1="622.20" x2="444.30" y2="625.00" stroke="#333" stroke-width="1.0"/>
<text x="444.30" y="635.20" font-size="6.7" text-anchor="middle" fill="#333" textLength="3.60" lengthAdjust="spacingAndGlyphs" stroke="#333" stroke-width="0.18">2</text>
<line x1="467.60" y1="622.20" x2="467.60" y2="625.00" stroke="#333" stroke-width="1.0"/>
<text x="467.60" y="635.20" font-size="6.7" text-anchor="middle" fill="#333" textLength="3.60" lengthAdjust="spacingAndGlyphs" stroke="#333" stroke-width="0.18">4</text>
<line x1="490.90" y1="622.20" x2="490.90" y2="625.00" stroke="#333" stroke-width="1.0"/>
<text x="490.90" y="635.20" font-size="6.7" text-anchor="middle" fill="#333" textLength="3.60" lengthAdjust="spacingAndGlyphs" stroke="#333" stroke-width="0.18">6</text>
<line x1="514.20" y1="622.20" x2="514.20" y2="625.00" stroke="#333" stroke-width="1.0"/>
<text x="514.20" y="635.20" font-size="6.7" text-anchor="middle" fill="#333" textLength="3.60" lengthAdjust="spacingAndGlyphs" stroke="#333" stroke-width="0.18">8</text>
<text x="456.80" y="506.40" font-size="9.4" text-anchor="middle" textLength="26.00" lengthAdjust="spacingAndGlyphs" stroke="#222" stroke-width="0.18">TCGA</text>
<text x="437.70" y="648.30" font-size="8.8" fill="#1a1a1a" textLength="38.10" lengthAdjust="spacingAndGlyphs" stroke="#1a1a1a" stroke-width="0.38">LOG2_CD274</text>
<text x="376.00" y="567.50" font-size="8.8" text-anchor="middle" fill="#1a1a1a" textLength="40.00" lengthAdjust="spacingAndGlyphs" transform="rotate(-90 376.00 567.50)" stroke="#1a1a1a" stroke-width="0.38">LOG2_CCND1</text>
<text x="409.20" y="670.20" font-size="6.3" fill="#333" textLength="90.60" lengthAdjust="spacingAndGlyphs" stroke="#333" stroke-width="0.18"><tspan font-style="italic">r</tspan> = 0.255, 95% CI 0.11-0.389</text>
<text x="426.70" y="678.40" font-size="6.3" fill="#333" textLength="56.30" lengthAdjust="spacingAndGlyphs" stroke="#333" stroke-width="0.18"><tspan font-style="italic">P</tspan> value =  .000717</text>
<rect x="357.35" y="561.00" width="6.90" height="25.30" fill="none" stroke="#444" stroke-width="0.7"/>
<line x1="357.35" y1="574.80" x2="364.25" y2="574.80" stroke="#444" stroke-width="0.7"/>
<line x1="360.80" y1="528.00" x2="360.80" y2="561.00" stroke="#444" stroke-width="0.6"/>
<line x1="360.80" y1="586.30" x2="360.80" y2="617.20" stroke="#444" stroke-width="0.6"/>
<rect x="360.30" y="516.00" width="1" height="1" fill="#b03c58"/>
<rect x="360.30" y="518.50" width="1" height="1" fill="#b03c58"/>
<rect x="360.30" y="521.00" width="1" height="1" fill="#b03c58"/>
<rect x="360.30" y="523.20" width="1" height="1" fill="#b03c58"/>
<rect x="443.00" y="653.00" width="23.70" height="7.40" fill="none" stroke="#444" stroke-width="0.7"/>
<line x1="456.50" y1="653.00" x2="456.50" y2="660.40" stroke="#444" stroke-width="0.7"/>
<line x1="412.30" y1="656.70" x2="443.00" y2="656.70" stroke="#444" stroke-width="0.6"/>
<line x1="466.70" y1="656.70" x2="495.00" y2="656.70" stroke="#444" stroke-width="0.6"/>
<rect x="400.10" y="656.20" width="1" height="1" fill="#999"/>
<rect x="509.90" y="656.20" width="1" height="1" fill="#b03c58"/>
<rect x="512.80" y="656.20" width="1" height="1" fill="#b03c58"/>
</svg>
</body></html>
